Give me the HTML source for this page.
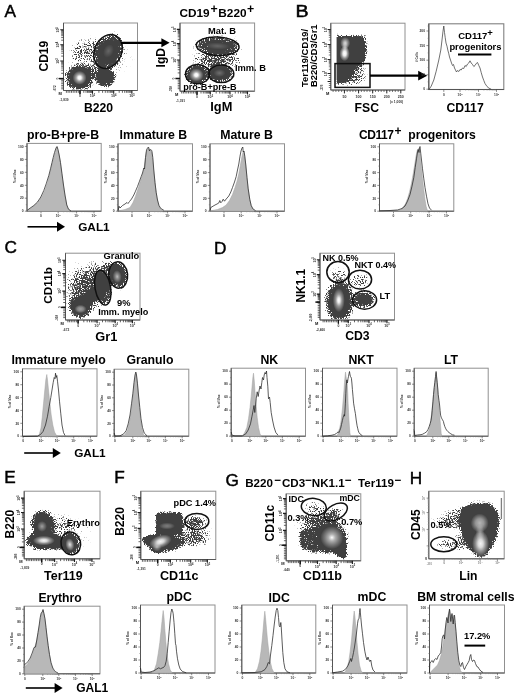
<!DOCTYPE html>
<html><head><meta charset="utf-8"><title>Figure</title>
<style>
html,body{margin:0;padding:0;background:#fff}
svg{display:block;font-family:"Liberation Sans",sans-serif;font-weight:bold;fill:#000}
</style></head><body>
<svg width="520" height="700" viewBox="0 0 520 700">
<defs>
<filter id="dn" x="0" y="0" width="100%" height="100%" color-interpolation-filters="sRGB"><feTurbulence type="fractalNoise" baseFrequency="0.93 0.77" numOctaves="2" seed="8"/><feComponentTransfer result="n"><feFuncA type="table" tableValues="0 .1 .2 .3 .4 .5 .6 .7 .725 .74 .745"/></feComponentTransfer><feComposite in="SourceGraphic" in2="n" operator="arithmetic" k1="0" k2="1" k3="1" k4="-0.745" result="s"/><feColorMatrix in="s" type="matrix" values="0 0 0 0 0.25  0 0 0 0 0.25  0 0 0 0 0.25  0 0 0 9 0"/><feGaussianBlur stdDeviation="0.45"/></filter>
<radialGradient id="r0"><stop offset="0" stop-opacity="1"/><stop offset=".6" stop-opacity=".55"/><stop offset=".72" stop-opacity=".36"/><stop offset=".85" stop-opacity=".22"/><stop offset="1" stop-opacity="0"/></radialGradient>
<radialGradient id="r1"><stop offset="0" stop-opacity=".13"/><stop offset=".5" stop-opacity=".1"/><stop offset=".8" stop-opacity=".04"/><stop offset="1" stop-opacity="0"/></radialGradient>
<radialGradient id="r2"><stop offset="0" stop-opacity=".75"/><stop offset=".5" stop-opacity=".52"/><stop offset=".7" stop-opacity=".38"/><stop offset=".85" stop-opacity=".22"/><stop offset="1" stop-opacity="0"/></radialGradient>
<radialGradient id="r3"><stop offset="0" stop-opacity=".27"/><stop offset=".5" stop-opacity=".2"/><stop offset=".8" stop-opacity=".08"/><stop offset="1" stop-opacity="0"/></radialGradient>
<radialGradient id="r4"><stop offset="0" stop-opacity=".3"/><stop offset=".5" stop-opacity=".22"/><stop offset=".8" stop-opacity=".09"/><stop offset="1" stop-opacity="0"/></radialGradient>
<radialGradient id="r5"><stop offset="0" stop-opacity=".1"/><stop offset=".5" stop-opacity=".08"/><stop offset=".8" stop-opacity=".03"/><stop offset="1" stop-opacity="0"/></radialGradient>
<radialGradient id="r6"><stop offset="0" stop-color="#fff" stop-opacity="1"/><stop offset=".22" stop-color="#fff" stop-opacity=".95"/><stop offset=".5" stop-color="#fff" stop-opacity=".5"/><stop offset="1" stop-color="#fff" stop-opacity="0"/></radialGradient>
<radialGradient id="r7"><stop offset="0" stop-color="#fff" stop-opacity=".2"/><stop offset="1" stop-color="#fff" stop-opacity="0"/></radialGradient>
<clipPath id="c796"><rect x="64.5" y="24" width="72" height="65.5"/></clipPath>
<radialGradient id="r8"><stop offset="0" stop-opacity=".62"/><stop offset=".5" stop-opacity=".5"/><stop offset=".7" stop-opacity=".36"/><stop offset=".85" stop-opacity=".22"/><stop offset="1" stop-opacity="0"/></radialGradient>
<radialGradient id="r9"><stop offset="0" stop-opacity=".34"/><stop offset=".5" stop-opacity=".26"/><stop offset=".8" stop-opacity=".1"/><stop offset="1" stop-opacity="0"/></radialGradient>
<radialGradient id="r10"><stop offset="0" stop-opacity=".09"/><stop offset=".5" stop-opacity=".07"/><stop offset=".8" stop-opacity=".03"/><stop offset="1" stop-opacity="0"/></radialGradient>
<radialGradient id="r11"><stop offset="0" stop-color="#fff" stop-opacity=".25"/><stop offset="1" stop-color="#fff" stop-opacity="0"/></radialGradient>
<clipPath id="c1961"><rect x="181" y="24" width="72.5" height="66"/></clipPath>
<radialGradient id="r12"><stop offset="0" stop-opacity=".2"/><stop offset=".5" stop-opacity=".15"/><stop offset=".8" stop-opacity=".06"/><stop offset="1" stop-opacity="0"/></radialGradient>
<radialGradient id="r13"><stop offset="0" stop-color="#fff" stop-opacity=".75"/><stop offset=".4" stop-color="#fff" stop-opacity=".5"/><stop offset="1" stop-color="#fff" stop-opacity="0"/></radialGradient>
<radialGradient id="r14"><stop offset="0" stop-color="#fff" stop-opacity="1"/><stop offset=".3" stop-color="#fff" stop-opacity=".9"/><stop offset=".6" stop-color="#fff" stop-opacity=".45"/><stop offset="1" stop-color="#fff" stop-opacity="0"/></radialGradient>
<radialGradient id="r15"><stop offset="0" stop-color="#fff" stop-opacity=".5"/><stop offset="1" stop-color="#fff" stop-opacity="0"/></radialGradient>
<clipPath id="c3470"><rect x="331.8" y="24.2" width="72.2" height="64.8"/></clipPath>
<clipPath id="c3470d"><rect x="336.6" y="24" width="37.4" height="65"/></clipPath>
<filter id="b20" x="-30%" y="-30%" width="160%" height="160%"><feGaussianBlur stdDeviation="2.0"/></filter>
<filter id="b18" x="-30%" y="-30%" width="160%" height="160%"><feGaussianBlur stdDeviation="1.8"/></filter>
<radialGradient id="r16"><stop offset="0" stop-opacity=".8"/><stop offset=".4" stop-opacity=".5"/><stop offset=".6" stop-opacity=".34"/><stop offset=".8" stop-opacity=".2"/><stop offset="1" stop-opacity="0"/></radialGradient>
<radialGradient id="r17"><stop offset="0" stop-opacity=".4"/><stop offset=".6" stop-opacity=".37"/><stop offset=".75" stop-opacity=".31"/><stop offset=".88" stop-opacity=".2"/><stop offset="1" stop-opacity="0"/></radialGradient>
<radialGradient id="r18"><stop offset="0" stop-opacity=".35"/><stop offset=".5" stop-opacity=".26"/><stop offset=".8" stop-opacity=".1"/><stop offset="1" stop-opacity="0"/></radialGradient>
<radialGradient id="r19"><stop offset="0" stop-color="#fff" stop-opacity=".5"/><stop offset=".5" stop-color="#fff" stop-opacity=".35"/><stop offset="1" stop-color="#fff" stop-opacity="0"/></radialGradient>
<radialGradient id="r20"><stop offset="0" stop-color="#fff" stop-opacity=".65"/><stop offset=".35" stop-color="#fff" stop-opacity=".4"/><stop offset="1" stop-color="#fff" stop-opacity="0"/></radialGradient>
<clipPath id="c2427"><rect x="66.5" y="254.2" width="72.5" height="64.8"/></clipPath>
<radialGradient id="r21"><stop offset="0" stop-opacity=".75"/><stop offset=".4" stop-opacity=".52"/><stop offset=".6" stop-opacity=".36"/><stop offset=".8" stop-opacity=".22"/><stop offset="1" stop-opacity="0"/></radialGradient>
<radialGradient id="r22"><stop offset="0" stop-opacity=".25"/><stop offset=".5" stop-opacity=".19"/><stop offset=".8" stop-opacity=".07"/><stop offset="1" stop-opacity="0"/></radialGradient>
<radialGradient id="r23"><stop offset="0" stop-color="#fff" stop-opacity="1"/><stop offset=".2" stop-color="#fff" stop-opacity=".9"/><stop offset=".5" stop-color="#fff" stop-opacity=".45"/><stop offset="1" stop-color="#fff" stop-opacity="0"/></radialGradient>
<clipPath id="c4972"><rect x="321" y="254.2" width="72.5" height="64.8"/></clipPath>
<radialGradient id="r24"><stop offset="0" stop-opacity=".08"/><stop offset=".5" stop-opacity=".06"/><stop offset=".8" stop-opacity=".02"/><stop offset="1" stop-opacity="0"/></radialGradient>
<radialGradient id="r25"><stop offset="0" stop-color="#fff" stop-opacity=".95"/><stop offset=".3" stop-color="#fff" stop-opacity=".8"/><stop offset=".6" stop-color="#fff" stop-opacity=".4"/><stop offset="1" stop-color="#fff" stop-opacity="0"/></radialGradient>
<radialGradient id="r26"><stop offset="0" stop-color="#fff" stop-opacity=".5"/><stop offset=".4" stop-color="#fff" stop-opacity=".3"/><stop offset="1" stop-color="#fff" stop-opacity="0"/></radialGradient>
<radialGradient id="r27"><stop offset="0" stop-color="#fff" stop-opacity=".85"/><stop offset=".35" stop-color="#fff" stop-opacity=".55"/><stop offset="1" stop-color="#fff" stop-opacity="0"/></radialGradient>
<clipPath id="c3680"><rect x="25.2" y="492.2" width="73.8" height="65.6"/></clipPath>
<radialGradient id="r28"><stop offset="0" stop-opacity=".22"/><stop offset=".5" stop-opacity=".17"/><stop offset=".8" stop-opacity=".07"/><stop offset="1" stop-opacity="0"/></radialGradient>
<radialGradient id="r29"><stop offset="0" stop-opacity=".12"/><stop offset=".5" stop-opacity=".09"/><stop offset=".8" stop-opacity=".04"/><stop offset="1" stop-opacity="0"/></radialGradient>
<radialGradient id="r30"><stop offset="0" stop-color="#fff" stop-opacity=".32"/><stop offset=".5" stop-color="#fff" stop-opacity=".2"/><stop offset="1" stop-color="#fff" stop-opacity="0"/></radialGradient>
<clipPath id="c4846"><rect x="141.8" y="492.2" width="73" height="66.3"/></clipPath>
<filter id="b16" x="-30%" y="-30%" width="160%" height="160%"><feGaussianBlur stdDeviation="1.6"/></filter>
<radialGradient id="r31"><stop offset="0" stop-opacity=".4"/><stop offset=".5" stop-opacity=".3"/><stop offset=".8" stop-opacity=".12"/><stop offset="1" stop-opacity="0"/></radialGradient>
<radialGradient id="r32"><stop offset="0" stop-opacity=".18"/><stop offset=".5" stop-opacity=".14"/><stop offset=".8" stop-opacity=".05"/><stop offset="1" stop-opacity="0"/></radialGradient>
<radialGradient id="r33"><stop offset="0" stop-opacity=".24"/><stop offset=".5" stop-opacity=".18"/><stop offset=".8" stop-opacity=".07"/><stop offset="1" stop-opacity="0"/></radialGradient>
<radialGradient id="r34"><stop offset="0" stop-opacity=".32"/><stop offset=".5" stop-opacity=".24"/><stop offset=".8" stop-opacity=".1"/><stop offset="1" stop-opacity="0"/></radialGradient>
<radialGradient id="r35"><stop offset="0" stop-color="#fff" stop-opacity="1"/><stop offset=".1" stop-color="#fff" stop-opacity=".85"/><stop offset=".3" stop-color="#fff" stop-opacity=".58"/><stop offset=".6" stop-color="#fff" stop-opacity=".32"/><stop offset="1" stop-color="#fff" stop-opacity="0"/></radialGradient>
<clipPath id="c6318"><rect x="287.2" y="494.8" width="72.6" height="65"/></clipPath>
<filter id="b12" x="-30%" y="-30%" width="160%" height="160%"><feGaussianBlur stdDeviation="1.2"/></filter>
<radialGradient id="r36"><stop offset="0" stop-opacity=".15"/><stop offset=".5" stop-opacity=".11"/><stop offset=".8" stop-opacity=".04"/><stop offset="1" stop-opacity="0"/></radialGradient>
<radialGradient id="r37"><stop offset="0" stop-opacity=".28"/><stop offset=".5" stop-opacity=".21"/><stop offset=".8" stop-opacity=".08"/><stop offset="1" stop-opacity="0"/></radialGradient>
<radialGradient id="r38"><stop offset="0" stop-color="#fff" stop-opacity=".62"/><stop offset=".45" stop-color="#fff" stop-opacity=".45"/><stop offset="1" stop-color="#fff" stop-opacity="0"/></radialGradient>
<radialGradient id="r39"><stop offset="0" stop-color="#fff" stop-opacity=".95"/><stop offset=".3" stop-color="#fff" stop-opacity=".8"/><stop offset=".6" stop-color="#fff" stop-opacity=".42"/><stop offset="1" stop-color="#fff" stop-opacity="0"/></radialGradient>
<radialGradient id="r40"><stop offset="0" stop-color="#fff" stop-opacity=".4"/><stop offset="1" stop-color="#fff" stop-opacity="0"/></radialGradient>
<clipPath id="c7726"><rect x="429.8" y="492.2" width="73.4" height="65.6"/></clipPath></defs>
<rect width="520" height="700" fill="#fff"/>
<text x="4.4" y="17.1" font-size="17.2" font-weight="normal" stroke="#000" stroke-width="0.45">A</text>
<text transform="translate(295.5 17.1) scale(1.14 1)" font-size="17.2" font-weight="normal" stroke="#000" stroke-width="0.5">B</text>
<text x="4.6" y="253" font-size="17.2" font-weight="normal" stroke="#000" stroke-width="0.45">C</text>
<text x="214" y="253.6" font-size="17.2" font-weight="normal" stroke="#000" stroke-width="0.45">D</text>
<text x="4.2" y="483.2" font-size="17.2" font-weight="normal" stroke="#000" stroke-width="0.45">E</text>
<text x="114.2" y="483.2" font-size="17.2" font-weight="normal" stroke="#000" stroke-width="0.45">F</text>
<text x="225.4" y="485.6" font-size="17.2" font-weight="normal" stroke="#000" stroke-width="0.45">G</text>
<text x="409.8" y="483.6" font-size="17.2" font-weight="normal" stroke="#000" stroke-width="0.45">H</text>
<g clip-path="url(#c796)">
<g filter="url(#dn)">
<rect x="43.5" y="3" width="114" height="107.5" fill-opacity=".01"/>
<ellipse cx="79.6" cy="77.6" rx="16" ry="15.5" fill="url(#r0)"/>
<ellipse cx="79.6" cy="77.6" rx="19.5" ry="18.9" fill="url(#r1)"/>
<ellipse cx="109" cy="51.6" rx="14.5" ry="20.5" fill="url(#r2)" transform="rotate(24 109 51.6)"/>
<ellipse cx="109" cy="51.6" rx="17.7" ry="25" fill="url(#r1)" transform="rotate(24 109 51.6)"/>
<ellipse cx="105.3" cy="77.5" rx="11.5" ry="11" fill="url(#r0)"/>
<ellipse cx="105.3" cy="77.5" rx="14" ry="13.4" fill="url(#r1)"/>
<ellipse cx="86" cy="51" rx="23" ry="15" fill="url(#r3)" transform="rotate(-20 86 51)"/>
<ellipse cx="95" cy="70" rx="13" ry="10" fill="url(#r4)"/>
<ellipse cx="110" cy="58" rx="30" ry="26" fill="url(#r5)"/>
</g>
<ellipse cx="79.6" cy="77.8" rx="7" ry="7" fill="url(#r6)"/>
<ellipse cx="108.5" cy="51" rx="5" ry="7" fill="url(#r7)" transform="rotate(24 108.5 51)"/>
</g>
<rect x="63.5" y="23" width="74" height="67.5" fill="none" stroke="#909090" stroke-width="1"/>
<path d="M63.5 23V90.5H137.5" fill="none" stroke="#555" stroke-width="1"/>
<path d="M83.8 90.5v2.3M86 90.5v2.3M87.5 90.5v2.3M88.7 90.5v2.3M89.7 90.5v2.3M90.6 90.5v2.3M91.3 90.5v2.3M91.9 90.5v2.3M98.9 90.5v2.3M102.6 90.5v2.3M105.3 90.5v2.3M107.3 90.5v2.3M109 90.5v2.3M110.4 90.5v2.3M111.6 90.5v2.3M112.7 90.5v2.3M119.2 90.5v2.3M122.4 90.5v2.3M124.7 90.5v2.3M126.4 90.5v2.3M127.9 90.5v2.3M129.1 90.5v2.3M130.1 90.5v2.3M131.1 90.5v2.3M78.3 90.5v2.3M76.6 90.5v2.3M74.9 90.5v2.3M73.2 90.5v2.3M71.5 90.5v2.3M69.8 90.5v2.3M68.1 90.5v2.3M66.4 90.5v2.3" stroke="#3c3c3c" stroke-width="0.8" fill="none"/>
<path d="M80 90.5v3.2M92.5 90.5v3.2M113.7 90.5v3.2M131.9 90.5v3.2" stroke="#1c1c1c" stroke-width="1.1" fill="none"/>
<path d="M63.5 73.3h-2.3M63.5 70.2h-2.3M63.5 68h-2.3M63.5 66.3h-2.3M63.5 64.9h-2.3M63.5 63.7h-2.3M63.5 62.7h-2.3M63.5 61.8h-2.3M63.5 56.1h-2.3M63.5 53.2h-2.3M63.5 51.2h-2.3M63.5 49.6h-2.3M63.5 48.3h-2.3M63.5 47.2h-2.3M63.5 46.3h-2.3M63.5 45.4h-2.3M63.5 40.2h-2.3M63.5 37.6h-2.3M63.5 35.7h-2.3M63.5 34.3h-2.3M63.5 33.1h-2.3M63.5 32.1h-2.3M63.5 31.2h-2.3M63.5 30.5h-2.3M63.5 80.3h-2.3M63.5 82h-2.3M63.5 83.7h-2.3M63.5 85.4h-2.3M63.5 87.1h-2.3M63.5 88.8h-2.3" stroke="#3c3c3c" stroke-width="0.8" fill="none"/>
<path d="M63.5 78.6h-3.2M63.5 61h-3.2M63.5 44.7h-3.2M63.5 29.8h-3.2" stroke="#1c1c1c" stroke-width="1.1" fill="none"/>
<path d="M63.5 78.6h-4.6" stroke="#111" stroke-width="1.5" fill="none"/>
<path d="M80 90.5v3.8" stroke="#111" stroke-width="1.3" fill="none"/>
<text transform="translate(80 97.1) scale(0.340)" font-size="10" text-anchor="middle" fill="#333">0</text>
<text transform="translate(92.5 97.3) scale(0.370)" font-size="10" text-anchor="middle" fill="#333">10<tspan dy="-4" font-size="7">2</tspan></text>
<text transform="translate(113.7 97.3) scale(0.370)" font-size="10" text-anchor="middle" fill="#333">10<tspan dy="-4" font-size="7">4</tspan></text>
<text transform="translate(131.9 97.3) scale(0.370)" font-size="10" text-anchor="middle" fill="#333">10<tspan dy="-4" font-size="7">5</tspan></text>
<text transform="translate(58.9 78.6) rotate(-90) scale(0.340)" font-size="10" text-anchor="middle" fill="#333">0</text>
<text transform="translate(59.3 61) rotate(-90) scale(0.370)" font-size="10" text-anchor="middle" fill="#333">10<tspan dy="-4" font-size="7">3</tspan></text>
<text transform="translate(59.3 44.7) rotate(-90) scale(0.370)" font-size="10" text-anchor="middle" fill="#333">10<tspan dy="-4" font-size="7">4</tspan></text>
<text transform="translate(59.3 29.8) rotate(-90) scale(0.370)" font-size="10" text-anchor="middle" fill="#333">10<tspan dy="-4" font-size="7">5</tspan></text>
<text transform="translate(64 101.1) scale(0.320)" font-size="10" text-anchor="middle" fill="#333">-1,839</text>
<text transform="translate(55.9 88.3) rotate(-90) scale(0.300)" font-size="10" text-anchor="middle" fill="#333">-672</text>
<text transform="translate(60.1 95.1) scale(0.400)" font-size="10" text-anchor="middle" fill="#111">M</text>
<ellipse cx="108" cy="51.5" rx="13.4" ry="17.5" fill="none" stroke="#111" stroke-width="1.5" transform="rotate(24 108 51.5)"/>
<path d="M121 42.8H162.4" stroke="#000" stroke-width="2.3"/>
<path d="M169.6 42.8L161.4 38.3L161.4 47.3Z" fill="#000"/>
<text x="48" y="71.6" font-size="12.1" transform="rotate(-90 48 71.6)">CD19</text>
<text x="84" y="112" font-size="12.2">B220</text>
<g clip-path="url(#c1961)">
<g filter="url(#dn)">
<rect x="160" y="3" width="114.5" height="108" fill-opacity="0"/>
<ellipse cx="217.5" cy="46" rx="23.5" ry="9.8" fill="url(#r8)" transform="rotate(3 217.5 46)"/>
<ellipse cx="217.5" cy="46" rx="28.7" ry="12" fill="url(#r1)" transform="rotate(3 217.5 46)"/>
<ellipse cx="196.8" cy="74.8" rx="13.5" ry="11" fill="url(#r0)"/>
<ellipse cx="196.8" cy="74.8" rx="16.5" ry="13.4" fill="url(#r1)"/>
<ellipse cx="220" cy="73.2" rx="14" ry="10" fill="url(#r0)"/>
<ellipse cx="220" cy="73.2" rx="17.1" ry="12.2" fill="url(#r1)"/>
<ellipse cx="217" cy="60" rx="28" ry="10.5" fill="url(#r9)"/>
<ellipse cx="218" cy="56" rx="36" ry="30" fill="url(#r10)"/>
</g>
<ellipse cx="196.3" cy="75" rx="7.2" ry="6.6" fill="url(#r6)"/>
<ellipse cx="217.5" cy="46" rx="12" ry="3.5" fill="url(#r7)" transform="rotate(3 217.5 46)"/>
<ellipse cx="219.5" cy="73" rx="6" ry="4" fill="url(#r11)"/>
</g>
<rect x="180" y="23" width="74.6" height="68.2" fill="none" stroke="#909090" stroke-width="1"/>
<path d="M180 23V91.2H254.6" fill="none" stroke="#555" stroke-width="1"/>
<path d="M201 91.2v2.3M203.3 91.2v2.3M205 91.2v2.3M206.3 91.2v2.3M207.3 91.2v2.3M208.2 91.2v2.3M209 91.2v2.3M209.7 91.2v2.3M216.2 91.2v2.3M219.7 91.2v2.3M222.2 91.2v2.3M224.1 91.2v2.3M225.6 91.2v2.3M226.9 91.2v2.3M228.1 91.2v2.3M229.1 91.2v2.3M235.3 91.2v2.3M238.3 91.2v2.3M240.5 91.2v2.3M242.2 91.2v2.3M243.6 91.2v2.3M244.8 91.2v2.3M245.8 91.2v2.3M246.7 91.2v2.3M195.3 91.2v2.3M193.6 91.2v2.3M191.9 91.2v2.3M190.2 91.2v2.3M188.5 91.2v2.3M186.8 91.2v2.3M185.1 91.2v2.3M183.4 91.2v2.3M181.7 91.2v2.3" stroke="#3c3c3c" stroke-width="0.8" fill="none"/>
<path d="M197 91.2v3.2M210.3 91.2v3.2M230 91.2v3.2M247.5 91.2v3.2" stroke="#1c1c1c" stroke-width="1.1" fill="none"/>
<path d="M180 72.9h-2.3M180 69.7h-2.3M180 67.4h-2.3M180 65.6h-2.3M180 64.1h-2.3M180 62.9h-2.3M180 61.8h-2.3M180 60.8h-2.3M180 55.1h-2.3M180 52.2h-2.3M180 50.1h-2.3M180 48.5h-2.3M180 47.2h-2.3M180 46.1h-2.3M180 45.2h-2.3M180 44.4h-2.3M180 39.3h-2.3M180 36.8h-2.3M180 35.1h-2.3M180 33.7h-2.3M180 32.6h-2.3M180 31.6h-2.3M180 30.8h-2.3M180 30h-2.3M180 80.2h-2.3M180 81.9h-2.3M180 83.6h-2.3M180 85.3h-2.3M180 87h-2.3M180 88.7h-2.3" stroke="#3c3c3c" stroke-width="0.8" fill="none"/>
<path d="M180 78.5h-3.2M180 60h-3.2M180 43.6h-3.2M180 29.4h-3.2" stroke="#1c1c1c" stroke-width="1.1" fill="none"/>
<path d="M180 78.5h-4.6" stroke="#111" stroke-width="1.5" fill="none"/>
<path d="M197 91.2v3.8" stroke="#111" stroke-width="1.3" fill="none"/>
<text transform="translate(197 97.8) scale(0.340)" font-size="10" text-anchor="middle" fill="#333">0</text>
<text transform="translate(210.3 98) scale(0.370)" font-size="10" text-anchor="middle" fill="#333">10<tspan dy="-4" font-size="7">3</tspan></text>
<text transform="translate(230 98) scale(0.370)" font-size="10" text-anchor="middle" fill="#333">10<tspan dy="-4" font-size="7">4</tspan></text>
<text transform="translate(247.5 98) scale(0.370)" font-size="10" text-anchor="middle" fill="#333">10<tspan dy="-4" font-size="7">5</tspan></text>
<text transform="translate(175.4 78.5) rotate(-90) scale(0.340)" font-size="10" text-anchor="middle" fill="#333">0</text>
<text transform="translate(175.8 60) rotate(-90) scale(0.370)" font-size="10" text-anchor="middle" fill="#333">10<tspan dy="-4" font-size="7">3</tspan></text>
<text transform="translate(175.8 43.6) rotate(-90) scale(0.370)" font-size="10" text-anchor="middle" fill="#333">10<tspan dy="-4" font-size="7">4</tspan></text>
<text transform="translate(175.8 29.4) rotate(-90) scale(0.370)" font-size="10" text-anchor="middle" fill="#333">10<tspan dy="-4" font-size="7">5</tspan></text>
<text transform="translate(180.5 101.8) scale(0.320)" font-size="10" text-anchor="middle" fill="#333">-1,391</text>
<text transform="translate(172.4 89) rotate(-90) scale(0.300)" font-size="10" text-anchor="middle" fill="#333">-398</text>
<text transform="translate(176.6 95.8) scale(0.400)" font-size="10" text-anchor="middle" fill="#111">M</text>
<ellipse cx="217.7" cy="46.2" rx="21.4" ry="9.2" fill="none" stroke="#111" stroke-width="1.5" transform="rotate(3 217.7 46.2)"/>
<ellipse cx="197.5" cy="74.2" rx="12" ry="9.6" fill="none" stroke="#111" stroke-width="1.5"/>
<ellipse cx="221.3" cy="73.8" rx="12.5" ry="8.8" fill="none" stroke="#111" stroke-width="1.5"/>
<text x="179.5" y="16.7" font-size="11.8">CD19<tspan x="210.4" dy="-3.4" font-size="12.3">+</tspan><tspan x="218.3" dy="3.4">B220</tspan><tspan x="247" dy="-3.4" font-size="12.3">+</tspan></text>
<text x="208" y="33.8" font-size="9.3">Mat. B</text>
<text x="235" y="70.5" font-size="9.3">Imm. B</text>
<text x="183.2" y="89.5" font-size="9.1">pro-B+pre-B</text>
<text x="165" y="67.4" font-size="12" transform="rotate(-90 165 67.4)">IgD</text>
<text x="210.3" y="110.5" font-size="12.8">IgM</text>
<g clip-path="url(#c3470)">
<g clip-path="url(#c3470d)">
<g filter="url(#dn)">
<rect x="310.8" y="3.2" width="114.2" height="106.8" fill-opacity="0"/>
<path d="M334 37L364 36.2L366 50L364 60L358 66L334 66Z" fill-opacity=".8" filter="url(#b20)"/>
<path d="M334 62L358 62L353 72L348 82L334 84Z" fill-opacity=".6" filter="url(#b18)"/>
<ellipse cx="357" cy="70" rx="13" ry="16" fill="url(#r4)"/>
<ellipse cx="352" cy="80" rx="14" ry="8" fill="url(#r12)"/>
</g>
</g>
<ellipse cx="345.2" cy="43" rx="5" ry="6" fill="url(#r13)"/>
<ellipse cx="344.6" cy="53.6" rx="5.2" ry="7.6" fill="url(#r14)"/>
<ellipse cx="345" cy="48" rx="3.2" ry="8" fill="url(#r15)"/>
</g>
<rect x="330.8" y="23.2" width="74.2" height="66.8" fill="none" stroke="#909090" stroke-width="1"/>
<path d="M330.8 23.2V90H405" fill="none" stroke="#555" stroke-width="1"/>
<path d="M344.4 90v3.4M358.6 90v3.4M372.7 90v3.4M386.8 90v3.4M400.8 90v3.4" stroke="#222" stroke-width="1" fill="none"/>
<path d="M333.1 90v2M335.9 90v2M338.7 90v2M341.6 90v2M347.2 90v2M350.1 90v2M352.9 90v2M355.7 90v2M361.4 90v2M364.2 90v2M367 90v2M369.9 90v2M375.5 90v2M378.4 90v2M381.2 90v2M384 90v2M389.7 90v2M392.5 90v2M395.3 90v2M398.2 90v2" stroke="#444" stroke-width="0.7" fill="none"/>
<text transform="translate(344.4 97.6) scale(0.360)" font-size="10" text-anchor="middle" fill="#333">50</text>
<text transform="translate(358.6 97.6) scale(0.360)" font-size="10" text-anchor="middle" fill="#333">100</text>
<text transform="translate(372.7 97.6) scale(0.360)" font-size="10" text-anchor="middle" fill="#333">150</text>
<text transform="translate(386.8 97.6) scale(0.360)" font-size="10" text-anchor="middle" fill="#333">200</text>
<text transform="translate(400.8 97.6) scale(0.360)" font-size="10" text-anchor="middle" fill="#333">250</text>
<text transform="translate(396.6 102.8) scale(0.330)" font-size="10" text-anchor="middle" fill="#333">(x 1,000)</text>
<path d="M330.8 81.5h-3.2M330.8 73.5h-3.2M330.8 59.5h-3.2M330.8 44.5h-3.2M330.8 29.5h-3.2" stroke="#222" stroke-width="1" fill="none"/>
<path d="M330.8 69.3h-2M330.8 66.8h-2M330.8 65.1h-2M330.8 63.7h-2M330.8 62.6h-2M330.8 61.7h-2M330.8 60.9h-2M330.8 60.1h-2M330.8 55h-2M330.8 52.3h-2M330.8 50.5h-2M330.8 49h-2M330.8 47.8h-2M330.8 46.8h-2M330.8 46h-2M330.8 45.2h-2M330.8 40h-2M330.8 37.3h-2M330.8 35.5h-2M330.8 34h-2M330.8 32.8h-2M330.8 31.8h-2M330.8 31h-2M330.8 30.2h-2M330.8 83.5h-2M330.8 85.5h-2M330.8 87.5h-2M330.8 79.5h-2M330.8 77.5h-2M330.8 75.5h-2" stroke="#444" stroke-width="0.7" fill="none"/>
<text transform="translate(326.6 73.5) rotate(-90) scale(0.370)" font-size="10" text-anchor="middle" fill="#3a3a3a">10<tspan dy="-4" font-size="7">2</tspan></text>
<text transform="translate(326.6 59.5) rotate(-90) scale(0.370)" font-size="10" text-anchor="middle" fill="#3a3a3a">10<tspan dy="-4" font-size="7">3</tspan></text>
<text transform="translate(326.6 44.5) rotate(-90) scale(0.370)" font-size="10" text-anchor="middle" fill="#3a3a3a">10<tspan dy="-4" font-size="7">4</tspan></text>
<text transform="translate(326.6 29.5) rotate(-90) scale(0.370)" font-size="10" text-anchor="middle" fill="#3a3a3a">10<tspan dy="-4" font-size="7">5</tspan></text>
<text transform="translate(323.4 87.6) rotate(-90) scale(0.300)" font-size="10" text-anchor="middle" fill="#333">-276</text>
<text transform="translate(327.6 94.6) scale(0.400)" font-size="10" text-anchor="middle" fill="#111">M</text>
<rect x="335" y="63.6" width="35" height="23.8" fill="none" stroke="#111" stroke-width="1.5"/>
<path d="M370 75.7H419.2" stroke="#000" stroke-width="2.3"/>
<path d="M427.2 75.7L418.2 70.8L418.2 80.6Z" fill="#000"/>
<text x="308" y="87" font-size="9.4" transform="rotate(-90 308 87)">Ter119/CD19/</text>
<text x="317.2" y="87" font-size="9.4" transform="rotate(-90 317.2 87)">B220/CD3/Gr1</text>
<text x="354.6" y="112" font-size="12.2">FSC</text>
<rect x="428.8" y="23.8" width="75" height="65.7" fill="none" stroke="#808080" stroke-width="1.1"/>
<path d="M428.8 23.8V89.5H503.8" fill="none" stroke="#555" stroke-width="1.1"/>
<path d="M429.2 89.2L431.2 86.2L433.8 80L436.2 71.2L438.8 60L440.8 50L442 40L443 31.2L443.8 26L444.5 32.5L445.2 37.5L446 43L447 46.2L447.8 50L448.8 53.8L449.5 57L450.5 60L451.5 63L452.5 65.5L453.5 64.5L454.5 68L455.5 70L456.5 72L457.5 70.5L458.8 71.5L460 69.5L461.2 70L462.5 68L463.8 68.5L465 65.5L466.2 66.5L467.5 64L468.8 63L470 60.8L471.2 63L472.5 64.5L473.8 66.5L475 65.5L476.2 63.5L477.5 62.5L478.8 65.5L480 68L481.2 72.5L482.5 77L483.8 80.5L485 83.5L487 86.5L489 88.2L491.2 89.2" fill="none" stroke="#333" stroke-width="0.7" stroke-linejoin="round"/>
<path d="M428.8 89.2h-2.4M428.8 74.8h-2.4M428.8 60.2h-2.4M428.8 45.6h-2.4M428.8 31h-2.4" stroke="#444" stroke-width="0.6" fill="none"/>
<path d="M428.8 81.9h-1.2M428.8 67.5h-1.2M428.8 52.9h-1.2M428.8 38.3h-1.2M428.8 26h-1.2" stroke="#666" stroke-width="0.5" fill="none"/>
<text transform="translate(425 90.4) scale(0.330)" font-size="10" text-anchor="end" fill="#333">0</text>
<text transform="translate(425 76) scale(0.330)" font-size="10" text-anchor="end" fill="#333">50</text>
<text transform="translate(425 61.4) scale(0.330)" font-size="10" text-anchor="end" fill="#333">100</text>
<text transform="translate(425 46.8) scale(0.330)" font-size="10" text-anchor="end" fill="#333">150</text>
<text transform="translate(425 32.2) scale(0.330)" font-size="10" text-anchor="end" fill="#333">200</text>
<text transform="translate(418.4 57) rotate(-90) scale(0.310)" font-size="10" text-anchor="middle" fill="#333"># Cells</text>
<path d="M443.8 89.5v2.4M460 89.5v2.4M478.5 89.5v2.4M496.5 89.5v2.4" stroke="#444" stroke-width="0.6" fill="none"/>
<path d="M465.6 89.5v1.2M468.8 89.5v1.2M471.1 89.5v1.2M472.9 89.5v1.2M474.4 89.5v1.2M475.6 89.5v1.2M476.7 89.5v1.2M477.7 89.5v1.2M483.9 89.5v1.2M487.1 89.5v1.2M489.3 89.5v1.2M491.1 89.5v1.2M492.5 89.5v1.2M493.7 89.5v1.2M494.8 89.5v1.2M495.7 89.5v1.2" stroke="#777" stroke-width="0.4" fill="none"/>
<text transform="translate(443.8 96) scale(0.330)" font-size="10" text-anchor="middle" fill="#333">0</text>
<text transform="translate(460 96.2) scale(0.320)" font-size="10" text-anchor="middle" fill="#3a3a3a">10<tspan dy="-4" font-size="7">3</tspan></text>
<text transform="translate(478.5 96.2) scale(0.320)" font-size="10" text-anchor="middle" fill="#3a3a3a">10<tspan dy="-4" font-size="7">4</tspan></text>
<text transform="translate(496.5 96.2) scale(0.320)" font-size="10" text-anchor="middle" fill="#3a3a3a">10<tspan dy="-4" font-size="7">5</tspan></text>
<path d="M458 54.6H491.4" stroke="#000" stroke-width="2"/>
<text x="458.2" y="39.2" font-size="9.5">CD117<tspan dy="-3" font-size="9.5">+</tspan></text>
<text x="449.4" y="50" font-size="9.4">progenitors</text>
<text x="446.4" y="112" font-size="12.2">CD117</text>
<rect x="27" y="143.4" width="74.2" height="67.8" fill="none" stroke="#909090" stroke-width="1"/>
<path d="M27 143.4V211.2H101.2" fill="none" stroke="#555" stroke-width="1"/>
<path d="M27 211.2h-2.2M27 198.2h-2.2M27 185.3h-2.2M27 172.3h-2.2M27 159.4h-2.2M27 146.4h-2.2" stroke="#444" stroke-width="0.6" fill="none"/>
<path d="M27 204.7h-1.2M27 191.8h-1.2M27 178.8h-1.2M27 165.8h-1.2M27 152.9h-1.2" stroke="#666" stroke-width="0.5" fill="none"/>
<text transform="translate(23.6 212.4) scale(0.330)" font-size="10" text-anchor="end" fill="#333">0</text>
<text transform="translate(23.6 199.4) scale(0.330)" font-size="10" text-anchor="end" fill="#333">20</text>
<text transform="translate(23.6 186.5) scale(0.330)" font-size="10" text-anchor="end" fill="#333">40</text>
<text transform="translate(23.6 173.5) scale(0.330)" font-size="10" text-anchor="end" fill="#333">60</text>
<text transform="translate(23.6 160.6) scale(0.330)" font-size="10" text-anchor="end" fill="#333">80</text>
<text transform="translate(23.6 147.6) scale(0.330)" font-size="10" text-anchor="end" fill="#333">100</text>
<text transform="translate(15.8 176.3) rotate(-90) scale(0.310)" font-size="10" text-anchor="middle" fill="#333">% of Max</text>
<text transform="translate(41 217.2) scale(0.330)" font-size="10" text-anchor="middle" fill="#333">0</text>
<text transform="translate(58.2 217.4) scale(0.320)" font-size="10" text-anchor="middle" fill="#3a3a3a">10<tspan dy="-4" font-size="7">3</tspan></text>
<text transform="translate(76.6 217.4) scale(0.320)" font-size="10" text-anchor="middle" fill="#3a3a3a">10<tspan dy="-4" font-size="7">4</tspan></text>
<text transform="translate(94 217.4) scale(0.320)" font-size="10" text-anchor="middle" fill="#3a3a3a">10<tspan dy="-4" font-size="7">5</tspan></text>
<path d="M41 211.2v2.2M58.2 211.2v2.2M76.6 211.2v2.2M94 211.2v2.2" stroke="#444" stroke-width="0.6" fill="none"/>
<path d="M63.7 211.2v1.2M67 211.2v1.2M69.3 211.2v1.2M71.1 211.2v1.2M72.5 211.2v1.2M73.7 211.2v1.2M74.8 211.2v1.2M75.8 211.2v1.2M81.8 211.2v1.2M84.9 211.2v1.2M87.1 211.2v1.2M88.8 211.2v1.2M90.1 211.2v1.2M91.3 211.2v1.2M92.3 211.2v1.2M93.2 211.2v1.2" stroke="#777" stroke-width="0.4" fill="none"/>
<path d="M27.5 210.5L31.2 208L35 205L38.8 201.2L42 196.2L45 190L47.5 182.5L50 173L52 164.5L53.8 157.5L55.5 151.2L57 147L58.2 151.2L59.5 157.5L60.8 166.2L62 175.5L63.5 186.2L65 196.2L66.5 204.5L68 208.8L70 210.5L70 211.2L27.5 211.2Z" fill="#b8b8b8" stroke="#a0a0a0" stroke-width="0.5"/>
<path d="M27 210.5L30 208.2L33.8 205.5L37.5 202L40.8 197L43.8 190.5L46.2 183.8L48.8 175.5L50.5 168.8L52 162.5L53.2 157.5L54.5 152.5L56 148L57 146.5L58 149.5L59.2 155L60.5 162.5L62 173.8L63.5 185L65 195L66.8 205L68.5 209.2L70.8 210.8" fill="none" stroke="#262626" stroke-width="0.75" stroke-linejoin="round"/>
<text x="27" y="138.8" font-size="12.3">pro-B+pre-B</text>
<path d="M27.5 226.8H58" stroke="#000" stroke-width="1.6"/>
<path d="M65 226.8L57 221.8L57 231.8Z" fill="#000"/>
<text x="78.2" y="230.8" font-size="11.8">GAL1</text>
<rect x="118" y="143.8" width="74.5" height="67.4" fill="none" stroke="#909090" stroke-width="1"/>
<path d="M118 143.8V211.2H192.5" fill="none" stroke="#555" stroke-width="1"/>
<path d="M118 211.2h-2.2M118 198.3h-2.2M118 185.4h-2.2M118 172.6h-2.2M118 159.7h-2.2M118 146.8h-2.2" stroke="#444" stroke-width="0.6" fill="none"/>
<path d="M118 204.8h-1.2M118 191.9h-1.2M118 179h-1.2M118 166.1h-1.2M118 153.2h-1.2" stroke="#666" stroke-width="0.5" fill="none"/>
<text transform="translate(114.6 212.4) scale(0.330)" font-size="10" text-anchor="end" fill="#333">0</text>
<text transform="translate(114.6 199.5) scale(0.330)" font-size="10" text-anchor="end" fill="#333">20</text>
<text transform="translate(114.6 186.6) scale(0.330)" font-size="10" text-anchor="end" fill="#333">40</text>
<text transform="translate(114.6 173.8) scale(0.330)" font-size="10" text-anchor="end" fill="#333">60</text>
<text transform="translate(114.6 160.9) scale(0.330)" font-size="10" text-anchor="end" fill="#333">80</text>
<text transform="translate(114.6 148) scale(0.330)" font-size="10" text-anchor="end" fill="#333">100</text>
<text transform="translate(106.8 176.5) rotate(-90) scale(0.310)" font-size="10" text-anchor="middle" fill="#333">% of Max</text>
<text transform="translate(132 217.2) scale(0.330)" font-size="10" text-anchor="middle" fill="#333">0</text>
<text transform="translate(149.2 217.4) scale(0.320)" font-size="10" text-anchor="middle" fill="#3a3a3a">10<tspan dy="-4" font-size="7">3</tspan></text>
<text transform="translate(167.6 217.4) scale(0.320)" font-size="10" text-anchor="middle" fill="#3a3a3a">10<tspan dy="-4" font-size="7">4</tspan></text>
<text transform="translate(185 217.4) scale(0.320)" font-size="10" text-anchor="middle" fill="#3a3a3a">10<tspan dy="-4" font-size="7">5</tspan></text>
<path d="M132 211.2v2.2M149.2 211.2v2.2M167.6 211.2v2.2M185 211.2v2.2" stroke="#444" stroke-width="0.6" fill="none"/>
<path d="M154.7 211.2v1.2M158 211.2v1.2M160.3 211.2v1.2M162.1 211.2v1.2M163.5 211.2v1.2M164.7 211.2v1.2M165.8 211.2v1.2M166.8 211.2v1.2M172.8 211.2v1.2M175.9 211.2v1.2M178.1 211.2v1.2M179.8 211.2v1.2M181.1 211.2v1.2M182.3 211.2v1.2M183.3 211.2v1.2M184.2 211.2v1.2" stroke="#777" stroke-width="0.4" fill="none"/>
<path d="M118.8 210.8L125 209.5L130 207.5L133 202.5L135.5 196.2L138 188.8L140 182.5L142 176.2L143.8 170L145 161.2L146.2 152.5L147.5 149.5L149 148.5L150.5 150.5L151.8 152.5L152.8 161.2L154 173.8L155.5 187.5L157 198L158.5 205L160.5 209L162.5 210.8L162.5 211.2L118.8 211.2Z" fill="#b8b8b8" stroke="#a0a0a0" stroke-width="0.5"/>
<path d="M118.2 210.5L119 206.2L120 208L122.5 205.5L125 204L127 202.5L128 203.5L129.5 201.5L131.5 199L133.8 195L135.5 191.2L137.5 186.5L139.5 181.2L141.2 176.5L142.5 173L143.8 168L144.5 169L145.5 157.5L146.5 150L147.5 148L148.5 147L149.5 151L150.5 149.5L151.8 150.5L152.8 157.5L153.8 170L155 182.5L156.2 192.5L157.5 200L159 205.5L160.8 208.5L163.8 210.2" fill="none" stroke="#262626" stroke-width="0.75" stroke-linejoin="round"/>
<text x="119.6" y="138.8" font-size="12.3">Immature B</text>
<rect x="210" y="143.8" width="74.5" height="67.4" fill="none" stroke="#909090" stroke-width="1"/>
<path d="M210 143.8V211.2H284.5" fill="none" stroke="#555" stroke-width="1"/>
<path d="M210 211.2h-2.2M210 198.3h-2.2M210 185.4h-2.2M210 172.6h-2.2M210 159.7h-2.2M210 146.8h-2.2" stroke="#444" stroke-width="0.6" fill="none"/>
<path d="M210 204.8h-1.2M210 191.9h-1.2M210 179h-1.2M210 166.1h-1.2M210 153.2h-1.2" stroke="#666" stroke-width="0.5" fill="none"/>
<text transform="translate(206.6 212.4) scale(0.330)" font-size="10" text-anchor="end" fill="#333">0</text>
<text transform="translate(206.6 199.5) scale(0.330)" font-size="10" text-anchor="end" fill="#333">20</text>
<text transform="translate(206.6 186.6) scale(0.330)" font-size="10" text-anchor="end" fill="#333">40</text>
<text transform="translate(206.6 173.8) scale(0.330)" font-size="10" text-anchor="end" fill="#333">60</text>
<text transform="translate(206.6 160.9) scale(0.330)" font-size="10" text-anchor="end" fill="#333">80</text>
<text transform="translate(206.6 148) scale(0.330)" font-size="10" text-anchor="end" fill="#333">100</text>
<text transform="translate(198.8 176.5) rotate(-90) scale(0.310)" font-size="10" text-anchor="middle" fill="#333">% of Max</text>
<text transform="translate(224 217.2) scale(0.330)" font-size="10" text-anchor="middle" fill="#333">0</text>
<text transform="translate(241.2 217.4) scale(0.320)" font-size="10" text-anchor="middle" fill="#3a3a3a">10<tspan dy="-4" font-size="7">3</tspan></text>
<text transform="translate(259.6 217.4) scale(0.320)" font-size="10" text-anchor="middle" fill="#3a3a3a">10<tspan dy="-4" font-size="7">4</tspan></text>
<text transform="translate(277 217.4) scale(0.320)" font-size="10" text-anchor="middle" fill="#3a3a3a">10<tspan dy="-4" font-size="7">5</tspan></text>
<path d="M224 211.2v2.2M241.2 211.2v2.2M259.6 211.2v2.2M277 211.2v2.2" stroke="#444" stroke-width="0.6" fill="none"/>
<path d="M246.7 211.2v1.2M250 211.2v1.2M252.3 211.2v1.2M254.1 211.2v1.2M255.5 211.2v1.2M256.7 211.2v1.2M257.8 211.2v1.2M258.8 211.2v1.2M264.8 211.2v1.2M267.9 211.2v1.2M270.1 211.2v1.2M271.8 211.2v1.2M273.1 211.2v1.2M274.3 211.2v1.2M275.3 211.2v1.2M276.2 211.2v1.2" stroke="#777" stroke-width="0.4" fill="none"/>
<path d="M210.5 210.8L217.5 209.5L222.5 207.5L226.2 205L229.5 200.5L232.5 194.5L235 187.5L237 181.2L238.8 173.8L240.2 166.2L241.5 158.8L242.5 153.8L243.5 151L244.5 155L245.5 162.5L246.8 176.2L248 187.5L249.5 198L251 205L252.5 209L254 210.8L254 211.2L210.5 211.2Z" fill="#b8b8b8" stroke="#a0a0a0" stroke-width="0.5"/>
<path d="M210.2 210.5L210.8 207.5L213 206.2L215 205L217 204L218.8 203L219.8 200.5L220.8 202.8L222 201.5L223.2 199.2L224.5 201.2L226.2 199L228.8 196L230.8 192L232.5 187.5L234.5 182L236.2 176.5L237.5 170L238.8 164L240 156.2L241 151L242 148L242.8 147L243.2 152L244 151L244.8 156.2L245.8 165L247 177.5L248.2 188.8L249.8 199.5L251.2 205.5L253 209L255.5 210.5" fill="none" stroke="#262626" stroke-width="0.75" stroke-linejoin="round"/>
<text x="220.2" y="138.8" font-size="12.3">Mature B</text>
<rect x="379.5" y="143.8" width="74.3" height="67.4" fill="none" stroke="#909090" stroke-width="1"/>
<path d="M379.5 143.8V211.2H453.8" fill="none" stroke="#555" stroke-width="1"/>
<path d="M379.5 211.2h-2.2M379.5 198.3h-2.2M379.5 185.4h-2.2M379.5 172.6h-2.2M379.5 159.7h-2.2M379.5 146.8h-2.2" stroke="#444" stroke-width="0.6" fill="none"/>
<path d="M379.5 204.8h-1.2M379.5 191.9h-1.2M379.5 179h-1.2M379.5 166.1h-1.2M379.5 153.2h-1.2" stroke="#666" stroke-width="0.5" fill="none"/>
<text transform="translate(376.1 212.4) scale(0.330)" font-size="10" text-anchor="end" fill="#333">0</text>
<text transform="translate(376.1 199.5) scale(0.330)" font-size="10" text-anchor="end" fill="#333">20</text>
<text transform="translate(376.1 186.6) scale(0.330)" font-size="10" text-anchor="end" fill="#333">40</text>
<text transform="translate(376.1 173.8) scale(0.330)" font-size="10" text-anchor="end" fill="#333">60</text>
<text transform="translate(376.1 160.9) scale(0.330)" font-size="10" text-anchor="end" fill="#333">80</text>
<text transform="translate(376.1 148) scale(0.330)" font-size="10" text-anchor="end" fill="#333">100</text>
<text transform="translate(368.3 176.5) rotate(-90) scale(0.310)" font-size="10" text-anchor="middle" fill="#333">% of Max</text>
<text transform="translate(393.5 217.2) scale(0.330)" font-size="10" text-anchor="middle" fill="#333">0</text>
<text transform="translate(410.7 217.4) scale(0.320)" font-size="10" text-anchor="middle" fill="#3a3a3a">10<tspan dy="-4" font-size="7">3</tspan></text>
<text transform="translate(429.1 217.4) scale(0.320)" font-size="10" text-anchor="middle" fill="#3a3a3a">10<tspan dy="-4" font-size="7">4</tspan></text>
<text transform="translate(446.5 217.4) scale(0.320)" font-size="10" text-anchor="middle" fill="#3a3a3a">10<tspan dy="-4" font-size="7">5</tspan></text>
<path d="M393.5 211.2v2.2M410.7 211.2v2.2M429.1 211.2v2.2M446.5 211.2v2.2" stroke="#444" stroke-width="0.6" fill="none"/>
<path d="M416.2 211.2v1.2M419.5 211.2v1.2M421.8 211.2v1.2M423.6 211.2v1.2M425 211.2v1.2M426.2 211.2v1.2M427.3 211.2v1.2M428.3 211.2v1.2M434.3 211.2v1.2M437.4 211.2v1.2M439.6 211.2v1.2M441.3 211.2v1.2M442.6 211.2v1.2M443.8 211.2v1.2M444.8 211.2v1.2M445.7 211.2v1.2" stroke="#777" stroke-width="0.4" fill="none"/>
<path d="M380 210.8L400 210.2L403 207.5L405.5 203.8L407.5 198.8L409.5 192L411.5 183L413.2 173.8L414.8 163.8L416 156.2L417.2 150.5L418.5 148.5L419.5 149.5L420.2 156.2L421.2 166.2L422.5 178.8L423.8 190L425 199.5L426.2 206.5L427.5 210.8L427.5 211.2L380 211.2Z" fill="#b8b8b8" stroke="#a0a0a0" stroke-width="0.5"/>
<path d="M379.5 210.8L390 210.5L397.5 210L402 208.5L405 206L407.5 201.2L410 194.5L412 186.2L413.8 177.5L415.2 167.5L416.5 158.8L417.5 152L418.2 149.5L419 152.5L419.5 148L420 146.5L420.8 153.8L421.5 160L422.5 168.8L423.8 178.8L425 187.5L426.5 196.2L428 203.8L429.5 208L431.5 210.2" fill="none" stroke="#262626" stroke-width="0.75" stroke-linejoin="round"/>
<text x="359" y="138.6" font-size="12.2"><tspan font-size="12" letter-spacing="-.45">CD117</tspan><tspan x="394.6" dy="-3.4" font-size="12">+</tspan><tspan x="408.2" dy="3.4">progenitors</tspan></text>
<g clip-path="url(#c2427)">
<g filter="url(#dn)">
<rect x="45.5" y="233.2" width="114.5" height="106.8" fill-opacity=".01"/>
<ellipse cx="80.4" cy="307.2" rx="12.5" ry="12.5" fill="url(#r0)"/>
<ellipse cx="80.4" cy="307.2" rx="15.2" ry="15.2" fill="url(#r1)"/>
<ellipse cx="94" cy="294" rx="24" ry="7.5" fill="url(#r16)" transform="rotate(-40 94 294)"/>
<ellipse cx="94" cy="294" rx="29.3" ry="9.2" fill="url(#r1)" transform="rotate(-40 94 294)"/>
<ellipse cx="90" cy="285" rx="34" ry="20" fill="url(#r4)" transform="rotate(-40 90 285)"/>
<ellipse cx="85" cy="284" rx="30" ry="26" fill="url(#r12)" transform="rotate(-40 85 284)"/>
<ellipse cx="92" cy="304" rx="14" ry="9" fill="url(#r12)"/>
<ellipse cx="102.8" cy="287.6" rx="9" ry="19" fill="url(#r17)" transform="rotate(-10 102.8 287.6)"/>
<ellipse cx="102.8" cy="287.6" rx="11" ry="23.2" fill="url(#r1)" transform="rotate(-10 102.8 287.6)"/>
<ellipse cx="118" cy="275.2" rx="10.5" ry="14.5" fill="url(#r0)" transform="rotate(-6 118 275.2)"/>
<ellipse cx="118" cy="275.2" rx="12.8" ry="17.7" fill="url(#r1)" transform="rotate(-6 118 275.2)"/>
<ellipse cx="110" cy="268" rx="10" ry="8" fill="url(#r18)"/>
</g>
<ellipse cx="80.5" cy="309" rx="6" ry="4.2" fill="url(#r19)"/>
<ellipse cx="117.2" cy="276.6" rx="4.5" ry="6.5" fill="url(#r20)" transform="rotate(-6 117.2 276.6)"/>
</g>
<rect x="65.5" y="253.2" width="74.5" height="66.8" fill="none" stroke="#909090" stroke-width="1"/>
<path d="M65.5 253.2V320H140" fill="none" stroke="#555" stroke-width="1"/>
<path d="M83.8 320v2.3M87.2 320v2.3M89.5 320v2.3M91.4 320v2.3M92.9 320v2.3M94.2 320v2.3M95.3 320v2.3M96.2 320v2.3M102.5 320v2.3M105.7 320v2.3M108 320v2.3M109.8 320v2.3M111.2 320v2.3M112.4 320v2.3M113.4 320v2.3M114.4 320v2.3M120.4 320v2.3M123.4 320v2.3M125.6 320v2.3M127.2 320v2.3M128.6 320v2.3M129.7 320v2.3M130.7 320v2.3M131.6 320v2.3M76.4 320v2.3M74.7 320v2.3M73 320v2.3M71.3 320v2.3M69.6 320v2.3M67.9 320v2.3" stroke="#3c3c3c" stroke-width="0.8" fill="none"/>
<path d="M78.1 320v3.2M97.1 320v3.2M115.2 320v3.2M132.4 320v3.2" stroke="#1c1c1c" stroke-width="1.1" fill="none"/>
<path d="M65.5 302.5h-2.3M65.5 299.6h-2.3M65.5 297.6h-2.3M65.5 296h-2.3M65.5 294.7h-2.3M65.5 293.6h-2.3M65.5 292.7h-2.3M65.5 291.8h-2.3M65.5 285.8h-2.3M65.5 282.8h-2.3M65.5 280.6h-2.3M65.5 278.9h-2.3M65.5 277.5h-2.3M65.5 276.3h-2.3M65.5 275.3h-2.3M65.5 274.4h-2.3M65.5 269.6h-2.3M65.5 267.2h-2.3M65.5 265.5h-2.3M65.5 264.2h-2.3M65.5 263.2h-2.3M65.5 262.3h-2.3M65.5 261.5h-2.3M65.5 260.8h-2.3M65.5 309.1h-2.3M65.5 310.8h-2.3M65.5 312.5h-2.3M65.5 314.2h-2.3M65.5 315.9h-2.3M65.5 317.6h-2.3" stroke="#3c3c3c" stroke-width="0.8" fill="none"/>
<path d="M65.5 307.4h-3.2M65.5 291.1h-3.2M65.5 273.6h-3.2M65.5 260.2h-3.2" stroke="#1c1c1c" stroke-width="1.1" fill="none"/>
<path d="M65.5 307.4h-4.6" stroke="#111" stroke-width="1.5" fill="none"/>
<path d="M78.1 320v3.8" stroke="#111" stroke-width="1.3" fill="none"/>
<text transform="translate(78.1 326.6) scale(0.340)" font-size="10" text-anchor="middle" fill="#333">0</text>
<text transform="translate(97.1 326.8) scale(0.370)" font-size="10" text-anchor="middle" fill="#333">10<tspan dy="-4" font-size="7">3</tspan></text>
<text transform="translate(115.2 326.8) scale(0.370)" font-size="10" text-anchor="middle" fill="#333">10<tspan dy="-4" font-size="7">4</tspan></text>
<text transform="translate(132.4 326.8) scale(0.370)" font-size="10" text-anchor="middle" fill="#333">10<tspan dy="-4" font-size="7">5</tspan></text>
<text transform="translate(60.9 307.4) rotate(-90) scale(0.340)" font-size="10" text-anchor="middle" fill="#333">0</text>
<text transform="translate(61.3 291.1) rotate(-90) scale(0.370)" font-size="10" text-anchor="middle" fill="#333">10<tspan dy="-4" font-size="7">3</tspan></text>
<text transform="translate(61.3 273.6) rotate(-90) scale(0.370)" font-size="10" text-anchor="middle" fill="#333">10<tspan dy="-4" font-size="7">4</tspan></text>
<text transform="translate(61.3 260.2) rotate(-90) scale(0.370)" font-size="10" text-anchor="middle" fill="#333">10<tspan dy="-4" font-size="7">5</tspan></text>
<text transform="translate(66 330.6) scale(0.320)" font-size="10" text-anchor="middle" fill="#333">-672</text>
<text transform="translate(57.9 317.8) rotate(-90) scale(0.300)" font-size="10" text-anchor="middle" fill="#333">-508</text>
<text transform="translate(62.1 324.6) scale(0.400)" font-size="10" text-anchor="middle" fill="#111">M</text>
<ellipse cx="102.8" cy="287.6" rx="7.8" ry="17.6" fill="none" stroke="#111" stroke-width="1.5" transform="rotate(-10 102.8 287.6)"/>
<ellipse cx="118.2" cy="275" rx="9.4" ry="13.2" fill="none" stroke="#111" stroke-width="1.5" transform="rotate(-6 118.2 275)"/>
<text x="103.6" y="258.8" font-size="9.3">Granulo</text>
<text x="117" y="305.5" font-size="9.3">9%</text>
<text x="98.2" y="315" font-size="9.1">Imm. myelo</text>
<text x="52.4" y="303.8" font-size="11.8" transform="rotate(-90 52.4 303.8)">CD11b</text>
<text x="95.3" y="341.2" font-size="12.8">Gr1</text>
<g clip-path="url(#c4972)">
<g filter="url(#dn)">
<rect x="300" y="233.2" width="114.5" height="106.8" fill-opacity="0"/>
<ellipse cx="339.4" cy="301.5" rx="16" ry="24" fill="url(#r0)"/>
<ellipse cx="339.4" cy="301.5" rx="19.5" ry="29.3" fill="url(#r1)"/>
<ellipse cx="364.2" cy="299.6" rx="12" ry="9" fill="url(#r21)"/>
<ellipse cx="364.2" cy="299.6" rx="14.6" ry="11" fill="url(#r1)"/>
<ellipse cx="338" cy="275" rx="12" ry="10" fill="url(#r22)"/>
<ellipse cx="360" cy="280" rx="12" ry="9" fill="url(#r3)"/>
<ellipse cx="352" cy="294" rx="22" ry="16" fill="url(#r5)"/>
</g>
<ellipse cx="338.8" cy="300.2" rx="6" ry="12" fill="url(#r23)"/>
</g>
<rect x="320" y="253.2" width="74.5" height="66.8" fill="none" stroke="#909090" stroke-width="1"/>
<path d="M320 253.2V320H394.5" fill="none" stroke="#555" stroke-width="1"/>
<path d="M341.4 320v2.3M343.1 320v2.3M344.4 320v2.3M345.3 320v2.3M346.1 320v2.3M346.8 320v2.3M347.3 320v2.3M347.8 320v2.3M354.5 320v2.3M358.2 320v2.3M360.8 320v2.3M362.8 320v2.3M364.4 320v2.3M365.8 320v2.3M367 320v2.3M368.1 320v2.3M374.4 320v2.3M377.6 320v2.3M379.8 320v2.3M381.6 320v2.3M383 320v2.3M384.2 320v2.3M385.3 320v2.3M386.2 320v2.3M336.7 320v2.3M335 320v2.3M333.3 320v2.3M331.6 320v2.3M329.9 320v2.3M328.2 320v2.3M326.5 320v2.3M324.8 320v2.3M323.1 320v2.3" stroke="#3c3c3c" stroke-width="0.8" fill="none"/>
<path d="M338.4 320v3.2M348.3 320v3.2M369 320v3.2M387 320v3.2" stroke="#1c1c1c" stroke-width="1.1" fill="none"/>
<path d="M320 299.7h-2.3M320 298.3h-2.3M320 297.3h-2.3M320 296.5h-2.3M320 295.9h-2.3M320 295.3h-2.3M320 294.9h-2.3M320 294.5h-2.3M320 288.2h-2.3M320 284.8h-2.3M320 282.4h-2.3M320 280.5h-2.3M320 278.9h-2.3M320 277.6h-2.3M320 276.5h-2.3M320 275.5h-2.3M320 270.1h-2.3M320 267.5h-2.3M320 265.7h-2.3M320 264.3h-2.3M320 263.1h-2.3M320 262.1h-2.3M320 261.2h-2.3M320 260.5h-2.3M320 303.8h-2.3M320 305.5h-2.3M320 307.2h-2.3M320 308.9h-2.3M320 310.6h-2.3M320 312.3h-2.3M320 314h-2.3M320 315.7h-2.3M320 317.4h-2.3" stroke="#3c3c3c" stroke-width="0.8" fill="none"/>
<path d="M320 302.1h-3.2M320 294.1h-3.2M320 274.6h-3.2M320 259.8h-3.2" stroke="#1c1c1c" stroke-width="1.1" fill="none"/>
<path d="M320 302.1h-4.6" stroke="#111" stroke-width="1.5" fill="none"/>
<path d="M338.4 320v3.8" stroke="#111" stroke-width="1.3" fill="none"/>
<text transform="translate(338.4 326.6) scale(0.340)" font-size="10" text-anchor="middle" fill="#333">0</text>
<text transform="translate(348.3 326.8) scale(0.370)" font-size="10" text-anchor="middle" fill="#333">10<tspan dy="-4" font-size="7">3</tspan></text>
<text transform="translate(369 326.8) scale(0.370)" font-size="10" text-anchor="middle" fill="#333">10<tspan dy="-4" font-size="7">4</tspan></text>
<text transform="translate(387 326.8) scale(0.370)" font-size="10" text-anchor="middle" fill="#333">10<tspan dy="-4" font-size="7">5</tspan></text>
<text transform="translate(315.8 294.1) rotate(-90) scale(0.370)" font-size="10" text-anchor="middle" fill="#333">10<tspan dy="-4" font-size="7">3</tspan></text>
<text transform="translate(315.8 274.6) rotate(-90) scale(0.370)" font-size="10" text-anchor="middle" fill="#333">10<tspan dy="-4" font-size="7">4</tspan></text>
<text transform="translate(315.8 259.8) rotate(-90) scale(0.370)" font-size="10" text-anchor="middle" fill="#333">10<tspan dy="-4" font-size="7">5</tspan></text>
<text transform="translate(320.5 330.6) scale(0.320)" font-size="10" text-anchor="middle" fill="#333">-2,460</text>
<text transform="translate(312.4 317.8) rotate(-90) scale(0.300)" font-size="10" text-anchor="middle" fill="#333">-2,460</text>
<text transform="translate(316.6 324.6) scale(0.400)" font-size="10" text-anchor="middle" fill="#111">M</text>
<ellipse cx="338" cy="272" rx="11.2" ry="10.4" fill="none" stroke="#111" stroke-width="1.5"/>
<ellipse cx="360" cy="279.6" rx="11.6" ry="9.4" fill="none" stroke="#111" stroke-width="1.5"/>
<ellipse cx="364.6" cy="300" rx="12" ry="9.2" fill="none" stroke="#111" stroke-width="1.5"/>
<text x="322.4" y="260.5" font-size="9">NK 0.5%</text>
<text x="354.5" y="268" font-size="9">NKT</text>
<text x="375.6" y="268" font-size="9">0.4%</text>
<text x="379.5" y="298.8" font-size="9.3">LT</text>
<text x="305.2" y="302.6" font-size="11.9" transform="rotate(-90 305.2 302.6)">NK1.1</text>
<text x="345.2" y="339.6" font-size="12.2">CD3</text>
<rect x="22.5" y="368.8" width="74.5" height="67.4" fill="none" stroke="#909090" stroke-width="1"/>
<path d="M22.5 368.8V436.2H97" fill="none" stroke="#555" stroke-width="1"/>
<path d="M22.5 436.2h-2.2M22.5 423.3h-2.2M22.5 410.4h-2.2M22.5 397.6h-2.2M22.5 384.7h-2.2M22.5 371.8h-2.2" stroke="#444" stroke-width="0.6" fill="none"/>
<path d="M22.5 429.8h-1.2M22.5 416.9h-1.2M22.5 404h-1.2M22.5 391.1h-1.2M22.5 378.2h-1.2" stroke="#666" stroke-width="0.5" fill="none"/>
<text transform="translate(19.1 437.4) scale(0.330)" font-size="10" text-anchor="end" fill="#333">0</text>
<text transform="translate(19.1 424.5) scale(0.330)" font-size="10" text-anchor="end" fill="#333">20</text>
<text transform="translate(19.1 411.6) scale(0.330)" font-size="10" text-anchor="end" fill="#333">40</text>
<text transform="translate(19.1 398.8) scale(0.330)" font-size="10" text-anchor="end" fill="#333">60</text>
<text transform="translate(19.1 385.9) scale(0.330)" font-size="10" text-anchor="end" fill="#333">80</text>
<text transform="translate(19.1 373) scale(0.330)" font-size="10" text-anchor="end" fill="#333">100</text>
<text transform="translate(11.3 401.5) rotate(-90) scale(0.310)" font-size="10" text-anchor="middle" fill="#333">% of Max</text>
<text transform="translate(23.1 442.2) scale(0.330)" font-size="10" text-anchor="middle" fill="#333">0</text>
<text transform="translate(41.1 442.4) scale(0.320)" font-size="10" text-anchor="middle" fill="#3a3a3a">10<tspan dy="-4" font-size="7">2</tspan></text>
<text transform="translate(57.1 442.4) scale(0.320)" font-size="10" text-anchor="middle" fill="#3a3a3a">10<tspan dy="-4" font-size="7">3</tspan></text>
<text transform="translate(73.7 442.4) scale(0.320)" font-size="10" text-anchor="middle" fill="#3a3a3a">10<tspan dy="-4" font-size="7">4</tspan></text>
<text transform="translate(90.5 442.4) scale(0.320)" font-size="10" text-anchor="middle" fill="#3a3a3a">10<tspan dy="-4" font-size="7">5</tspan></text>
<path d="M23.1 436.2v2.2M41.1 436.2v2.2M57.1 436.2v2.2M73.7 436.2v2.2M90.5 436.2v2.2" stroke="#444" stroke-width="0.6" fill="none"/>
<path d="M45.9 436.2v1.2M48.7 436.2v1.2M50.7 436.2v1.2M52.3 436.2v1.2M53.6 436.2v1.2M54.6 436.2v1.2M55.5 436.2v1.2M56.4 436.2v1.2M62.1 436.2v1.2M65 436.2v1.2M67.1 436.2v1.2M68.7 436.2v1.2M70 436.2v1.2M71.1 436.2v1.2M72.1 436.2v1.2M72.9 436.2v1.2M78.8 436.2v1.2M81.7 436.2v1.2M83.8 436.2v1.2M85.4 436.2v1.2M86.8 436.2v1.2M87.9 436.2v1.2M88.9 436.2v1.2M89.7 436.2v1.2" stroke="#777" stroke-width="0.4" fill="none"/>
<path d="M38 436.5L39.5 433.8L41 428L42.2 417.5L43.5 403.8L44.8 390L45.8 380L46.8 374.5L47.5 380L48.5 390L49.8 402.5L51.2 415L52.8 425L54.5 432L56.5 435.5L58 436.5L58 436.2L38 436.2Z" fill="#b8b8b8" stroke="#a0a0a0" stroke-width="0.5"/>
<path d="M23 436.5L37.5 436.2L40.5 434.5L43 431.5L45.5 425L47.5 416.2L49.2 406.2L50.8 397.5L52 390L53.2 382.5L54.2 377.5L55 378.8L55.5 373.2L56.2 377.5L56.8 375.5L57.5 381.2L58.5 390L59.5 401.2L60.8 413.8L62 425L63.5 432.5L65 435.5" fill="none" stroke="#262626" stroke-width="0.75" stroke-linejoin="round"/>
<text x="11.4" y="364.2" font-size="12.3">Immature myelo</text>
<path d="M24.2 453H53.8" stroke="#000" stroke-width="1.6"/>
<path d="M60.8 453L52.8 448L52.8 458Z" fill="#000"/>
<text x="74.2" y="456.8" font-size="11.8">GAL1</text>
<rect x="114.2" y="369.2" width="74.6" height="67" fill="none" stroke="#909090" stroke-width="1"/>
<path d="M114.2 369.2V436.2H188.8" fill="none" stroke="#555" stroke-width="1"/>
<path d="M114.2 436.2h-2.2M114.2 423.4h-2.2M114.2 410.6h-2.2M114.2 397.8h-2.2M114.2 385h-2.2M114.2 372.2h-2.2" stroke="#444" stroke-width="0.6" fill="none"/>
<path d="M114.2 429.8h-1.2M114.2 417h-1.2M114.2 404.2h-1.2M114.2 391.4h-1.2M114.2 378.6h-1.2" stroke="#666" stroke-width="0.5" fill="none"/>
<text transform="translate(110.8 437.4) scale(0.330)" font-size="10" text-anchor="end" fill="#333">0</text>
<text transform="translate(110.8 424.6) scale(0.330)" font-size="10" text-anchor="end" fill="#333">20</text>
<text transform="translate(110.8 411.8) scale(0.330)" font-size="10" text-anchor="end" fill="#333">40</text>
<text transform="translate(110.8 399) scale(0.330)" font-size="10" text-anchor="end" fill="#333">60</text>
<text transform="translate(110.8 386.2) scale(0.330)" font-size="10" text-anchor="end" fill="#333">80</text>
<text transform="translate(110.8 373.4) scale(0.330)" font-size="10" text-anchor="end" fill="#333">100</text>
<text transform="translate(103 401.7) rotate(-90) scale(0.310)" font-size="10" text-anchor="middle" fill="#333">% of Max</text>
<text transform="translate(114.8 442.2) scale(0.330)" font-size="10" text-anchor="middle" fill="#333">0</text>
<text transform="translate(132.8 442.4) scale(0.320)" font-size="10" text-anchor="middle" fill="#3a3a3a">10<tspan dy="-4" font-size="7">2</tspan></text>
<text transform="translate(148.8 442.4) scale(0.320)" font-size="10" text-anchor="middle" fill="#3a3a3a">10<tspan dy="-4" font-size="7">3</tspan></text>
<text transform="translate(165.4 442.4) scale(0.320)" font-size="10" text-anchor="middle" fill="#3a3a3a">10<tspan dy="-4" font-size="7">4</tspan></text>
<text transform="translate(182.2 442.4) scale(0.320)" font-size="10" text-anchor="middle" fill="#3a3a3a">10<tspan dy="-4" font-size="7">5</tspan></text>
<path d="M114.8 436.2v2.2M132.8 436.2v2.2M148.8 436.2v2.2M165.4 436.2v2.2M182.2 436.2v2.2" stroke="#444" stroke-width="0.6" fill="none"/>
<path d="M137.6 436.2v1.2M140.4 436.2v1.2M142.4 436.2v1.2M144 436.2v1.2M145.3 436.2v1.2M146.3 436.2v1.2M147.2 436.2v1.2M148.1 436.2v1.2M153.8 436.2v1.2M156.7 436.2v1.2M158.8 436.2v1.2M160.4 436.2v1.2M161.7 436.2v1.2M162.8 436.2v1.2M163.8 436.2v1.2M164.6 436.2v1.2M170.5 436.2v1.2M173.4 436.2v1.2M175.5 436.2v1.2M177.1 436.2v1.2M178.5 436.2v1.2M179.6 436.2v1.2M180.6 436.2v1.2M181.4 436.2v1.2" stroke="#777" stroke-width="0.4" fill="none"/>
<path d="M122.5 436.5L125 434.5L127.5 430L129.5 421.2L131 412.5L132.2 402.5L133.5 391.2L134.5 381.2L135.5 374.5L136.2 373.5L137 380L138 391.2L139.2 406.2L140.5 418.8L142 428.8L143.5 434.5L145 436.5L145 436.2L122.5 436.2Z" fill="#b8b8b8" stroke="#a0a0a0" stroke-width="0.5"/>
<path d="M114.2 433L115 436L120 435.8L123.8 433.8L126.2 430.5L128.2 423.8L130 415L131.5 403.8L132.8 393.8L134 382.5L135 375L135.8 372L136.5 375L137.5 383.8L138.5 395L139.8 407.5L141 418.8L142.5 427.5L144.2 433L147 435.8" fill="none" stroke="#262626" stroke-width="0.75" stroke-linejoin="round"/>
<text x="126.4" y="364.2" font-size="12.3">Granulo</text>
<rect x="231.2" y="368.2" width="74.3" height="68" fill="none" stroke="#909090" stroke-width="1"/>
<path d="M231.2 368.2V436.2H305.5" fill="none" stroke="#555" stroke-width="1"/>
<path d="M231.2 436.2h-2.2M231.2 423.2h-2.2M231.2 410.2h-2.2M231.2 397.2h-2.2M231.2 384.2h-2.2M231.2 371.2h-2.2" stroke="#444" stroke-width="0.6" fill="none"/>
<path d="M231.2 429.7h-1.2M231.2 416.7h-1.2M231.2 403.7h-1.2M231.2 390.7h-1.2M231.2 377.7h-1.2" stroke="#666" stroke-width="0.5" fill="none"/>
<text transform="translate(227.8 437.4) scale(0.330)" font-size="10" text-anchor="end" fill="#333">0</text>
<text transform="translate(227.8 424.4) scale(0.330)" font-size="10" text-anchor="end" fill="#333">20</text>
<text transform="translate(227.8 411.4) scale(0.330)" font-size="10" text-anchor="end" fill="#333">40</text>
<text transform="translate(227.8 398.4) scale(0.330)" font-size="10" text-anchor="end" fill="#333">60</text>
<text transform="translate(227.8 385.4) scale(0.330)" font-size="10" text-anchor="end" fill="#333">80</text>
<text transform="translate(227.8 372.4) scale(0.330)" font-size="10" text-anchor="end" fill="#333">100</text>
<text transform="translate(220 401.2) rotate(-90) scale(0.310)" font-size="10" text-anchor="middle" fill="#333">% of Max</text>
<text transform="translate(231.8 442.2) scale(0.330)" font-size="10" text-anchor="middle" fill="#333">0</text>
<text transform="translate(249.8 442.4) scale(0.320)" font-size="10" text-anchor="middle" fill="#3a3a3a">10<tspan dy="-4" font-size="7">2</tspan></text>
<text transform="translate(265.8 442.4) scale(0.320)" font-size="10" text-anchor="middle" fill="#3a3a3a">10<tspan dy="-4" font-size="7">3</tspan></text>
<text transform="translate(282.4 442.4) scale(0.320)" font-size="10" text-anchor="middle" fill="#3a3a3a">10<tspan dy="-4" font-size="7">4</tspan></text>
<text transform="translate(299.2 442.4) scale(0.320)" font-size="10" text-anchor="middle" fill="#3a3a3a">10<tspan dy="-4" font-size="7">5</tspan></text>
<path d="M231.8 436.2v2.2M249.8 436.2v2.2M265.8 436.2v2.2M282.4 436.2v2.2M299.2 436.2v2.2" stroke="#444" stroke-width="0.6" fill="none"/>
<path d="M254.6 436.2v1.2M257.4 436.2v1.2M259.4 436.2v1.2M261 436.2v1.2M262.3 436.2v1.2M263.3 436.2v1.2M264.2 436.2v1.2M265.1 436.2v1.2M270.8 436.2v1.2M273.7 436.2v1.2M275.8 436.2v1.2M277.4 436.2v1.2M278.7 436.2v1.2M279.8 436.2v1.2M280.8 436.2v1.2M281.6 436.2v1.2M287.5 436.2v1.2M290.4 436.2v1.2M292.5 436.2v1.2M294.1 436.2v1.2M295.5 436.2v1.2M296.6 436.2v1.2M297.6 436.2v1.2M298.4 436.2v1.2" stroke="#777" stroke-width="0.4" fill="none"/>
<path d="M242 436.2L244.5 433L246.8 427.5L248.5 418.8L250 407.5L251.2 396.2L252.2 385L253 376.2L253.5 373.2L254.2 380L255 391.2L256 403.8L257.2 417.5L258.5 427.5L260 434L261.5 436.2L261.5 436.2L242 436.2Z" fill="#b8b8b8" stroke="#a0a0a0" stroke-width="0.5"/>
<path d="M231.2 432L232 435.2L235 435.8L242.5 435.8L245.8 433.8L248.2 430L250.5 423.8L252 416.2L253.2 410L254 405.5L254.8 412.5L255.5 406.2L256.2 398.8L257.2 391.8L258.2 396.5L259.2 390L260 386L261 389L261.8 382.5L262.5 377.5L263.5 380L264.2 375L265 372.5L265.8 374L266.5 371L267 377.5L267.8 386.2L268.5 398.8L269.5 397L270.2 402.5L271.2 412.5L272.5 420L274 427L275.8 432.5L278 435.2" fill="none" stroke="#262626" stroke-width="0.75" stroke-linejoin="round"/>
<text x="260.4" y="364.2" font-size="12.3">NK</text>
<rect x="322.5" y="368.2" width="74.5" height="68" fill="none" stroke="#909090" stroke-width="1"/>
<path d="M322.5 368.2V436.2H397" fill="none" stroke="#555" stroke-width="1"/>
<path d="M322.5 436.2h-2.2M322.5 423.2h-2.2M322.5 410.2h-2.2M322.5 397.2h-2.2M322.5 384.2h-2.2M322.5 371.2h-2.2" stroke="#444" stroke-width="0.6" fill="none"/>
<path d="M322.5 429.7h-1.2M322.5 416.7h-1.2M322.5 403.7h-1.2M322.5 390.7h-1.2M322.5 377.7h-1.2" stroke="#666" stroke-width="0.5" fill="none"/>
<text transform="translate(319.1 437.4) scale(0.330)" font-size="10" text-anchor="end" fill="#333">0</text>
<text transform="translate(319.1 424.4) scale(0.330)" font-size="10" text-anchor="end" fill="#333">20</text>
<text transform="translate(319.1 411.4) scale(0.330)" font-size="10" text-anchor="end" fill="#333">40</text>
<text transform="translate(319.1 398.4) scale(0.330)" font-size="10" text-anchor="end" fill="#333">60</text>
<text transform="translate(319.1 385.4) scale(0.330)" font-size="10" text-anchor="end" fill="#333">80</text>
<text transform="translate(319.1 372.4) scale(0.330)" font-size="10" text-anchor="end" fill="#333">100</text>
<text transform="translate(311.3 401.2) rotate(-90) scale(0.310)" font-size="10" text-anchor="middle" fill="#333">% of Max</text>
<text transform="translate(323.1 442.2) scale(0.330)" font-size="10" text-anchor="middle" fill="#333">0</text>
<text transform="translate(341.1 442.4) scale(0.320)" font-size="10" text-anchor="middle" fill="#3a3a3a">10<tspan dy="-4" font-size="7">2</tspan></text>
<text transform="translate(357.1 442.4) scale(0.320)" font-size="10" text-anchor="middle" fill="#3a3a3a">10<tspan dy="-4" font-size="7">3</tspan></text>
<text transform="translate(373.7 442.4) scale(0.320)" font-size="10" text-anchor="middle" fill="#3a3a3a">10<tspan dy="-4" font-size="7">4</tspan></text>
<text transform="translate(390.5 442.4) scale(0.320)" font-size="10" text-anchor="middle" fill="#3a3a3a">10<tspan dy="-4" font-size="7">5</tspan></text>
<path d="M323.1 436.2v2.2M341.1 436.2v2.2M357.1 436.2v2.2M373.7 436.2v2.2M390.5 436.2v2.2" stroke="#444" stroke-width="0.6" fill="none"/>
<path d="M345.9 436.2v1.2M348.7 436.2v1.2M350.7 436.2v1.2M352.3 436.2v1.2M353.6 436.2v1.2M354.6 436.2v1.2M355.5 436.2v1.2M356.4 436.2v1.2M362.1 436.2v1.2M365 436.2v1.2M367.1 436.2v1.2M368.7 436.2v1.2M370 436.2v1.2M371.1 436.2v1.2M372.1 436.2v1.2M372.9 436.2v1.2M378.8 436.2v1.2M381.7 436.2v1.2M383.8 436.2v1.2M385.4 436.2v1.2M386.8 436.2v1.2M387.9 436.2v1.2M388.9 436.2v1.2M389.7 436.2v1.2" stroke="#777" stroke-width="0.4" fill="none"/>
<path d="M337.2 435.8L338.5 431.5L339.8 427.5L340.8 422.5L341.5 417L342.5 408L343.2 399.8L344 390L344.5 382.5L345 377L345.5 372.1L346 376L346.4 379L346.9 380L347.2 382.5L347.8 393.8L348.1 403.2L348.6 412.5L349 420.5L349.5 428L349.9 432.6L350.4 435.8L350.4 436.2L337.2 436.2Z" fill="#b8b8b8" stroke="#a0a0a0" stroke-width="0.5"/>
<path d="M322.5 436.2L327.5 435.8L332 435.2L334.5 434.5L336.4 433.5L338.1 431.8L338.9 432.6L339.8 430.5L340.7 428.2L341.5 424.5L342.4 420.5L343.1 417.5L343.8 415.4L344.2 414.5L344.6 416.2L345 410L345.4 403.2L345.8 393.8L346.2 385.9L346.6 382L346.9 379.9L347.2 383L347.6 381.6L348 378.8L348.5 376.4L349 373.8L349.5 371.5L349.9 374L350.4 376.4L350.9 377L351.4 378.2L351.9 383L352.4 389.4L353 396.2L353.6 403.2L354.5 408.8L355.4 413.6L356.2 420L357.1 425.8L357.8 428.8L358.3 430.9L359.1 432.8L360.1 434L361.1 434.9L362.3 435.4" fill="none" stroke="#262626" stroke-width="0.75" stroke-linejoin="round"/>
<text x="348.4" y="364.2" font-size="12.3">NKT</text>
<rect x="414.2" y="368.2" width="74" height="68" fill="none" stroke="#909090" stroke-width="1"/>
<path d="M414.2 368.2V436.2H488.2" fill="none" stroke="#555" stroke-width="1"/>
<path d="M414.2 436.2h-2.2M414.2 423.2h-2.2M414.2 410.2h-2.2M414.2 397.2h-2.2M414.2 384.2h-2.2M414.2 371.2h-2.2" stroke="#444" stroke-width="0.6" fill="none"/>
<path d="M414.2 429.7h-1.2M414.2 416.7h-1.2M414.2 403.7h-1.2M414.2 390.7h-1.2M414.2 377.7h-1.2" stroke="#666" stroke-width="0.5" fill="none"/>
<text transform="translate(410.8 437.4) scale(0.330)" font-size="10" text-anchor="end" fill="#333">0</text>
<text transform="translate(410.8 424.4) scale(0.330)" font-size="10" text-anchor="end" fill="#333">20</text>
<text transform="translate(410.8 411.4) scale(0.330)" font-size="10" text-anchor="end" fill="#333">40</text>
<text transform="translate(410.8 398.4) scale(0.330)" font-size="10" text-anchor="end" fill="#333">60</text>
<text transform="translate(410.8 385.4) scale(0.330)" font-size="10" text-anchor="end" fill="#333">80</text>
<text transform="translate(410.8 372.4) scale(0.330)" font-size="10" text-anchor="end" fill="#333">100</text>
<text transform="translate(403 401.2) rotate(-90) scale(0.310)" font-size="10" text-anchor="middle" fill="#333">% of Max</text>
<text transform="translate(414.8 442.2) scale(0.330)" font-size="10" text-anchor="middle" fill="#333">0</text>
<text transform="translate(432.8 442.4) scale(0.320)" font-size="10" text-anchor="middle" fill="#3a3a3a">10<tspan dy="-4" font-size="7">2</tspan></text>
<text transform="translate(448.8 442.4) scale(0.320)" font-size="10" text-anchor="middle" fill="#3a3a3a">10<tspan dy="-4" font-size="7">3</tspan></text>
<text transform="translate(465.4 442.4) scale(0.320)" font-size="10" text-anchor="middle" fill="#3a3a3a">10<tspan dy="-4" font-size="7">4</tspan></text>
<text transform="translate(482.2 442.4) scale(0.320)" font-size="10" text-anchor="middle" fill="#3a3a3a">10<tspan dy="-4" font-size="7">5</tspan></text>
<path d="M414.8 436.2v2.2M432.8 436.2v2.2M448.8 436.2v2.2M465.4 436.2v2.2M482.2 436.2v2.2" stroke="#444" stroke-width="0.6" fill="none"/>
<path d="M437.6 436.2v1.2M440.4 436.2v1.2M442.4 436.2v1.2M444 436.2v1.2M445.3 436.2v1.2M446.3 436.2v1.2M447.2 436.2v1.2M448.1 436.2v1.2M453.8 436.2v1.2M456.7 436.2v1.2M458.8 436.2v1.2M460.4 436.2v1.2M461.7 436.2v1.2M462.8 436.2v1.2M463.8 436.2v1.2M464.6 436.2v1.2M470.5 436.2v1.2M473.4 436.2v1.2M475.5 436.2v1.2M477.1 436.2v1.2M478.5 436.2v1.2M479.6 436.2v1.2M480.6 436.2v1.2M481.4 436.2v1.2" stroke="#777" stroke-width="0.4" fill="none"/>
<path d="M426.6 435.8L428 432.5L429.2 429.2L430.2 423.8L431.2 417L432.2 408L433 399.8L434 390L434.8 382.5L435.5 377L436.1 373L436.8 378L437.4 384.2L438 393.8L438.8 403.2L439.5 412.5L440.1 420.5L440.8 428L441.2 433.5L441.9 435.8L441.9 436.2L426.6 436.2Z" fill="#b8b8b8" stroke="#a0a0a0" stroke-width="0.5"/>
<path d="M414.2 430.5L414.8 435.5L417.5 435L420 434.8L422.2 434.4L424.5 433.2L426.6 431.8L428 429.5L429.2 426.5L430.2 423.5L431 420.5L431.8 415L432.2 410.2L433 401.2L433.5 394.5L434.2 387.5L434.8 382.5L435.5 376.5L436.1 371.5L436.6 377L437.2 382.5L437.8 389L438.2 394.5L439 400.5L439.6 405L440.1 410.5L440.6 415.2L441.2 417.2L441.9 418.8L442.5 419.8L443.4 421.4L444 424L444.8 426.5L445.5 428.2L446.5 430L447.8 431.5L449.1 432.6L450.8 433.8L452.5 434.8L454.5 435.2" fill="none" stroke="#262626" stroke-width="0.75" stroke-linejoin="round"/>
<text x="444" y="364.2" font-size="12.3">LT</text>
<g clip-path="url(#c3680)">
<g filter="url(#dn)">
<rect x="4.2" y="471.2" width="115.8" height="107.6" fill-opacity="0"/>
<ellipse cx="43.5" cy="540.5" rx="20.5" ry="11" fill="url(#r0)"/>
<ellipse cx="43.5" cy="540.5" rx="25" ry="13.4" fill="url(#r1)"/>
<ellipse cx="42.8" cy="523.5" rx="13.5" ry="15" fill="url(#r0)"/>
<ellipse cx="42.8" cy="523.5" rx="16.5" ry="18.3" fill="url(#r1)"/>
<ellipse cx="43" cy="532" rx="10" ry="7" fill="url(#r0)"/>
<ellipse cx="43" cy="532" rx="12.2" ry="8.5" fill="url(#r1)"/>
<ellipse cx="58" cy="543" rx="13" ry="7.5" fill="url(#r0)" transform="rotate(5 58 543)"/>
<ellipse cx="58" cy="543" rx="15.9" ry="9.2" fill="url(#r1)" transform="rotate(5 58 543)"/>
<ellipse cx="70.3" cy="544" rx="10.5" ry="12" fill="url(#r0)" transform="rotate(-10 70.3 544)"/>
<ellipse cx="70.3" cy="544" rx="12.8" ry="14.6" fill="url(#r1)" transform="rotate(-10 70.3 544)"/>
<ellipse cx="60" cy="525" rx="24" ry="13" fill="url(#r12)"/>
<ellipse cx="56" cy="535" rx="30" ry="20" fill="url(#r24)"/>
<ellipse cx="80" cy="535" rx="22" ry="20" fill="url(#r24)"/>
</g>
<ellipse cx="43.8" cy="540.6" rx="11" ry="4.8" fill="url(#r25)"/>
<ellipse cx="42" cy="526.4" rx="5" ry="5.5" fill="url(#r26)"/>
<ellipse cx="69.9" cy="544.6" rx="4.4" ry="6.4" fill="url(#r27)" transform="rotate(-10 69.9 544.6)"/>
</g>
<rect x="24.2" y="491.2" width="75.8" height="67.6" fill="none" stroke="#909090" stroke-width="1"/>
<path d="M24.2 491.2V558.8H100" fill="none" stroke="#555" stroke-width="1"/>
<path d="M45.6 558.8v2.3M47.9 558.8v2.3M49.5 558.8v2.3M50.7 558.8v2.3M51.7 558.8v2.3M52.6 558.8v2.3M53.3 558.8v2.3M54 558.8v2.3M60.6 558.8v2.3M64.1 558.8v2.3M66.6 558.8v2.3M68.5 558.8v2.3M70.1 558.8v2.3M71.4 558.8v2.3M72.6 558.8v2.3M73.6 558.8v2.3M79.8 558.8v2.3M82.8 558.8v2.3M85 558.8v2.3M86.7 558.8v2.3M88.1 558.8v2.3M89.3 558.8v2.3M90.3 558.8v2.3M91.2 558.8v2.3M40 558.8v2.3M38.3 558.8v2.3M36.6 558.8v2.3M34.9 558.8v2.3M33.2 558.8v2.3M31.5 558.8v2.3M29.8 558.8v2.3M28.1 558.8v2.3M26.4 558.8v2.3" stroke="#3c3c3c" stroke-width="0.8" fill="none"/>
<path d="M41.7 558.8v3.2M54.6 558.8v3.2M74.5 558.8v3.2M92 558.8v3.2" stroke="#1c1c1c" stroke-width="1.1" fill="none"/>
<path d="M24.2 541.9h-2.3M24.2 538.6h-2.3M24.2 536.3h-2.3M24.2 534.5h-2.3M24.2 533.1h-2.3M24.2 531.9h-2.3M24.2 530.8h-2.3M24.2 529.8h-2.3M24.2 524h-2.3M24.2 521.1h-2.3M24.2 519.1h-2.3M24.2 517.5h-2.3M24.2 516.2h-2.3M24.2 515.1h-2.3M24.2 514.1h-2.3M24.2 513.3h-2.3M24.2 508.2h-2.3M24.2 505.6h-2.3M24.2 503.8h-2.3M24.2 502.4h-2.3M24.2 501.3h-2.3M24.2 500.3h-2.3M24.2 499.5h-2.3M24.2 498.8h-2.3M24.2 549.1h-2.3M24.2 550.8h-2.3M24.2 552.5h-2.3M24.2 554.2h-2.3M24.2 555.9h-2.3" stroke="#3c3c3c" stroke-width="0.8" fill="none"/>
<path d="M24.2 547.4h-3.2M24.2 529h-3.2M24.2 512.5h-3.2M24.2 498.1h-3.2" stroke="#1c1c1c" stroke-width="1.1" fill="none"/>
<path d="M24.2 547.4h-4.6" stroke="#111" stroke-width="1.5" fill="none"/>
<path d="M41.7 558.8v3.8" stroke="#111" stroke-width="1.3" fill="none"/>
<text transform="translate(41.7 565.4) scale(0.340)" font-size="10" text-anchor="middle" fill="#333">0</text>
<text transform="translate(54.6 565.6) scale(0.370)" font-size="10" text-anchor="middle" fill="#333">10<tspan dy="-4" font-size="7">3</tspan></text>
<text transform="translate(74.5 565.6) scale(0.370)" font-size="10" text-anchor="middle" fill="#333">10<tspan dy="-4" font-size="7">4</tspan></text>
<text transform="translate(92 565.6) scale(0.370)" font-size="10" text-anchor="middle" fill="#333">10<tspan dy="-4" font-size="7">5</tspan></text>
<text transform="translate(19.6 547.4) rotate(-90) scale(0.340)" font-size="10" text-anchor="middle" fill="#333">0</text>
<text transform="translate(20 529) rotate(-90) scale(0.370)" font-size="10" text-anchor="middle" fill="#333">10<tspan dy="-4" font-size="7">3</tspan></text>
<text transform="translate(20 512.5) rotate(-90) scale(0.370)" font-size="10" text-anchor="middle" fill="#333">10<tspan dy="-4" font-size="7">4</tspan></text>
<text transform="translate(20 498.1) rotate(-90) scale(0.370)" font-size="10" text-anchor="middle" fill="#333">10<tspan dy="-4" font-size="7">5</tspan></text>
<text transform="translate(24.7 569.4) scale(0.320)" font-size="10" text-anchor="middle" fill="#333">-1,839</text>
<text transform="translate(16.6 556.6) rotate(-90) scale(0.300)" font-size="10" text-anchor="middle" fill="#333">-266</text>
<text transform="translate(20.8 563.4) scale(0.400)" font-size="10" text-anchor="middle" fill="#111">M</text>
<ellipse cx="70.8" cy="543.4" rx="9.8" ry="11.4" fill="none" stroke="#111" stroke-width="1.5" transform="rotate(-14 70.8 543.4)"/>
<text x="66.8" y="525.8" font-size="9.3">Erythro</text>
<text x="14.4" y="538.4" font-size="12" transform="rotate(-90 14.4 538.4)">B220</text>
<text x="44" y="580" font-size="12.5">Ter119</text>
<g clip-path="url(#c4846)">
<g filter="url(#dn)">
<rect x="120.8" y="471.2" width="115" height="108.3" fill-opacity="0"/>
<path d="M156.5 513L181.5 513L182 534L156.5 534Z" fill-opacity=".8" filter="url(#b16)"/>
<ellipse cx="164" cy="542.5" rx="22" ry="11" fill="url(#r0)"/>
<ellipse cx="164" cy="542.5" rx="26.8" ry="13.4" fill="url(#r1)"/>
<ellipse cx="149" cy="540" rx="8" ry="5.5" fill="url(#r0)"/>
<ellipse cx="149" cy="540" rx="9.8" ry="6.7" fill="url(#r1)"/>
<ellipse cx="157.5" cy="548" rx="7.5" ry="6.5" fill="url(#r0)"/>
<ellipse cx="157.5" cy="548" rx="9.2" ry="7.9" fill="url(#r1)"/>
<ellipse cx="190" cy="523" rx="16" ry="9" fill="url(#r9)"/>
<ellipse cx="197" cy="521.5" rx="9" ry="5.5" fill="url(#r28)"/>
<ellipse cx="192" cy="538" rx="20" ry="11" fill="url(#r18)"/>
<ellipse cx="200" cy="530" rx="16" ry="18" fill="url(#r29)"/>
</g>
<ellipse cx="160.5" cy="541.6" rx="11.5" ry="6.4" fill="url(#r25)" transform="rotate(-18 160.5 541.6)"/>
<ellipse cx="157" cy="547" rx="4.5" ry="4.5" fill="url(#r15)"/>
<ellipse cx="167" cy="526" rx="8" ry="3.4" fill="url(#r30)"/>
</g>
<rect x="140.8" y="491.2" width="75" height="68.3" fill="none" stroke="#909090" stroke-width="1"/>
<path d="M140.8 491.2V559.5H215.8" fill="none" stroke="#555" stroke-width="1"/>
<path d="M161.5 559.5v2.3M163.8 559.5v2.3M165.3 559.5v2.3M166.6 559.5v2.3M167.6 559.5v2.3M168.4 559.5v2.3M169.2 559.5v2.3M169.8 559.5v2.3M176.5 559.5v2.3M180.1 559.5v2.3M182.6 559.5v2.3M184.6 559.5v2.3M186.2 559.5v2.3M187.6 559.5v2.3M188.7 559.5v2.3M189.8 559.5v2.3M195.7 559.5v2.3M198.7 559.5v2.3M200.8 559.5v2.3M202.4 559.5v2.3M203.7 559.5v2.3M204.8 559.5v2.3M205.8 559.5v2.3M206.6 559.5v2.3M156 559.5v2.3M154.3 559.5v2.3M152.6 559.5v2.3M150.9 559.5v2.3M149.2 559.5v2.3M147.5 559.5v2.3M145.8 559.5v2.3M144.1 559.5v2.3M142.4 559.5v2.3" stroke="#3c3c3c" stroke-width="0.8" fill="none"/>
<path d="M157.7 559.5v3.2M170.4 559.5v3.2M190.7 559.5v3.2M207.4 559.5v3.2" stroke="#1c1c1c" stroke-width="1.1" fill="none"/>
<path d="M140.8 541.7h-2.3M140.8 538.3h-2.3M140.8 536h-2.3M140.8 534.1h-2.3M140.8 532.6h-2.3M140.8 531.3h-2.3M140.8 530.2h-2.3M140.8 529.3h-2.3M140.8 523.6h-2.3M140.8 520.8h-2.3M140.8 518.8h-2.3M140.8 517.3h-2.3M140.8 516h-2.3M140.8 515h-2.3M140.8 514h-2.3M140.8 513.2h-2.3M140.8 508h-2.3M140.8 505.4h-2.3M140.8 503.6h-2.3M140.8 502.2h-2.3M140.8 501h-2.3M140.8 500h-2.3M140.8 499.1h-2.3M140.8 498.4h-2.3M140.8 549.1h-2.3M140.8 550.8h-2.3M140.8 552.5h-2.3M140.8 554.2h-2.3M140.8 555.9h-2.3M140.8 557.6h-2.3" stroke="#3c3c3c" stroke-width="0.8" fill="none"/>
<path d="M140.8 547.4h-3.2M140.8 528.4h-3.2M140.8 512.5h-3.2M140.8 497.7h-3.2" stroke="#1c1c1c" stroke-width="1.1" fill="none"/>
<path d="M140.8 547.4h-4.6" stroke="#111" stroke-width="1.5" fill="none"/>
<path d="M157.7 559.5v3.8" stroke="#111" stroke-width="1.3" fill="none"/>
<text transform="translate(157.7 566.1) scale(0.340)" font-size="10" text-anchor="middle" fill="#333">0</text>
<text transform="translate(170.4 566.3) scale(0.370)" font-size="10" text-anchor="middle" fill="#333">10<tspan dy="-4" font-size="7">3</tspan></text>
<text transform="translate(190.7 566.3) scale(0.370)" font-size="10" text-anchor="middle" fill="#333">10<tspan dy="-4" font-size="7">4</tspan></text>
<text transform="translate(207.4 566.3) scale(0.370)" font-size="10" text-anchor="middle" fill="#333">10<tspan dy="-4" font-size="7">5</tspan></text>
<text transform="translate(136.2 547.4) rotate(-90) scale(0.340)" font-size="10" text-anchor="middle" fill="#333">0</text>
<text transform="translate(136.6 528.4) rotate(-90) scale(0.370)" font-size="10" text-anchor="middle" fill="#333">10<tspan dy="-4" font-size="7">3</tspan></text>
<text transform="translate(136.6 512.5) rotate(-90) scale(0.370)" font-size="10" text-anchor="middle" fill="#333">10<tspan dy="-4" font-size="7">4</tspan></text>
<text transform="translate(136.6 497.7) rotate(-90) scale(0.370)" font-size="10" text-anchor="middle" fill="#333">10<tspan dy="-4" font-size="7">5</tspan></text>
<text transform="translate(141.3 570.1) scale(0.320)" font-size="10" text-anchor="middle" fill="#333">-1,391</text>
<text transform="translate(133.2 557.3) rotate(-90) scale(0.300)" font-size="10" text-anchor="middle" fill="#333">-266</text>
<text transform="translate(137.4 564.1) scale(0.400)" font-size="10" text-anchor="middle" fill="#111">M</text>
<ellipse cx="196.8" cy="521.4" rx="12" ry="8" fill="none" stroke="#111" stroke-width="1.5"/>
<text x="173.6" y="505.8" font-size="9.2">pDC 1.4%</text>
<text x="124.4" y="535.8" font-size="12" transform="rotate(-90 124.4 535.8)">B220</text>
<text x="160" y="580" font-size="12.6">CD11c</text>
<g clip-path="url(#c6318)">
<g filter="url(#dn)">
<rect x="266.2" y="473.8" width="114.6" height="107" fill-opacity="0"/>
<ellipse cx="332" cy="538" rx="17.5" ry="17" fill="url(#r0)"/>
<ellipse cx="332" cy="538" rx="21.3" ry="20.7" fill="url(#r1)"/>
<path d="M330 548L346 538L346.5 555L344.5 559L338 556Z" fill-opacity=".7" filter="url(#b12)"/>
<path d="M299.5 530L325 527L330 552L312 552.5L299.5 547Z" fill-opacity=".5" filter="url(#b18)"/>
<ellipse cx="320" cy="523" rx="28" ry="10" fill="url(#r31)" transform="rotate(-6 320 523)"/>
<ellipse cx="322" cy="516" rx="28" ry="10" fill="url(#r32)" transform="rotate(-8 322 516)"/>
<ellipse cx="314.5" cy="507.5" rx="12" ry="7.5" fill="url(#r33)" transform="rotate(5 314.5 507.5)"/>
<ellipse cx="333.5" cy="513.5" rx="10.5" ry="5.5" fill="url(#r34)" transform="rotate(-28 333.5 513.5)"/>
</g>
<ellipse cx="331.9" cy="537.6" rx="11.5" ry="11.5" fill="url(#r35)"/>
</g>
<rect x="286.2" y="493.8" width="74.6" height="67" fill="none" stroke="#909090" stroke-width="1"/>
<path d="M286.2 493.8V560.8H360.8" fill="none" stroke="#555" stroke-width="1"/>
<path d="M305.4 560.8v2.3M308.5 560.8v2.3M310.6 560.8v2.3M312.3 560.8v2.3M313.7 560.8v2.3M314.8 560.8v2.3M315.8 560.8v2.3M316.7 560.8v2.3M323.1 560.8v2.3M326.4 560.8v2.3M328.8 560.8v2.3M330.6 560.8v2.3M332.1 560.8v2.3M333.3 560.8v2.3M334.4 560.8v2.3M335.3 560.8v2.3M341.1 560.8v2.3M343.9 560.8v2.3M346 560.8v2.3M347.5 560.8v2.3M348.8 560.8v2.3M349.9 560.8v2.3M350.8 560.8v2.3M351.7 560.8v2.3M298.5 560.8v2.3M296.8 560.8v2.3M295.1 560.8v2.3M293.4 560.8v2.3M291.7 560.8v2.3M290 560.8v2.3M288.3 560.8v2.3" stroke="#3c3c3c" stroke-width="0.8" fill="none"/>
<path d="M300.2 560.8v3.2M317.5 560.8v3.2M336.2 560.8v3.2M352.4 560.8v3.2" stroke="#1c1c1c" stroke-width="1.1" fill="none"/>
<path d="M286.2 540.7h-2.3M286.2 538.1h-2.3M286.2 536.3h-2.3M286.2 534.9h-2.3M286.2 533.7h-2.3M286.2 532.7h-2.3M286.2 531.8h-2.3M286.2 531.1h-2.3M286.2 525.3h-2.3M286.2 522.3h-2.3M286.2 520.2h-2.3M286.2 518.5h-2.3M286.2 517.2h-2.3M286.2 516h-2.3M286.2 515h-2.3M286.2 514.2h-2.3M286.2 508.9h-2.3M286.2 506.3h-2.3M286.2 504.5h-2.3M286.2 503.1h-2.3M286.2 501.9h-2.3M286.2 500.9h-2.3M286.2 500h-2.3M286.2 499.3h-2.3M286.2 546.9h-2.3M286.2 548.6h-2.3M286.2 550.3h-2.3M286.2 552h-2.3M286.2 553.7h-2.3M286.2 555.4h-2.3M286.2 557.1h-2.3M286.2 558.8h-2.3" stroke="#3c3c3c" stroke-width="0.8" fill="none"/>
<path d="M286.2 545.2h-3.2M286.2 530.4h-3.2M286.2 513.4h-3.2M286.2 498.6h-3.2" stroke="#1c1c1c" stroke-width="1.1" fill="none"/>
<path d="M286.2 545.2h-4.6" stroke="#111" stroke-width="1.5" fill="none"/>
<path d="M300.2 560.8v3.8" stroke="#111" stroke-width="1.3" fill="none"/>
<text transform="translate(300.2 567.4) scale(0.340)" font-size="10" text-anchor="middle" fill="#333">0</text>
<text transform="translate(317.5 567.6) scale(0.370)" font-size="10" text-anchor="middle" fill="#333">10<tspan dy="-4" font-size="7">3</tspan></text>
<text transform="translate(336.2 567.6) scale(0.370)" font-size="10" text-anchor="middle" fill="#333">10<tspan dy="-4" font-size="7">4</tspan></text>
<text transform="translate(352.4 567.6) scale(0.370)" font-size="10" text-anchor="middle" fill="#333">10<tspan dy="-4" font-size="7">5</tspan></text>
<text transform="translate(281.6 545.2) rotate(-90) scale(0.340)" font-size="10" text-anchor="middle" fill="#333">0</text>
<text transform="translate(282 530.4) rotate(-90) scale(0.370)" font-size="10" text-anchor="middle" fill="#333">10<tspan dy="-4" font-size="7">3</tspan></text>
<text transform="translate(282 513.4) rotate(-90) scale(0.370)" font-size="10" text-anchor="middle" fill="#333">10<tspan dy="-4" font-size="7">4</tspan></text>
<text transform="translate(282 498.6) rotate(-90) scale(0.370)" font-size="10" text-anchor="middle" fill="#333">10<tspan dy="-4" font-size="7">5</tspan></text>
<text transform="translate(286.7 571.4) scale(0.320)" font-size="10" text-anchor="middle" fill="#333">-640</text>
<text transform="translate(278.6 558.6) rotate(-90) scale(0.300)" font-size="10" text-anchor="middle" fill="#333">-1,391</text>
<text transform="translate(282.8 565.4) scale(0.400)" font-size="10" text-anchor="middle" fill="#111">M</text>
<ellipse cx="313.8" cy="507" rx="12.5" ry="8.6" fill="none" stroke="#111" stroke-width="1.5" transform="rotate(6 313.8 507)"/>
<ellipse cx="335.8" cy="512" rx="12.6" ry="7.4" fill="none" stroke="#111" stroke-width="1.5" transform="rotate(-30 335.8 512)"/>
<text x="288.6" y="502" font-size="8.9">IDC</text>
<text x="339.4" y="501.4" font-size="8.8">mDC</text>
<text x="287.4" y="521.4" font-size="9.3">0.3%</text>
<text x="341.2" y="525" font-size="9.3">0.7%</text>
<text x="245.2" y="487.2" font-size="11.6">B220<tspan x="274.6" dy="-3">−</tspan><tspan x="282" dy="3">CD3</tspan><tspan x="305.3" dy="-3">−</tspan><tspan x="311.8" dy="3">NK1.1</tspan><tspan x="345.1" dy="-3">−</tspan><tspan x="358" dy="3">Ter119</tspan><tspan x="394.8" dy="-3">−</tspan></text>
<text x="273.6" y="541.4" font-size="12" transform="rotate(-90 273.6 541.4)">CD11c</text>
<text x="302.8" y="580.4" font-size="12.6">CD11b</text>
<g clip-path="url(#c7726)">
<g filter="url(#dn)">
<rect x="408.8" y="471.2" width="115.4" height="107.6" fill-opacity="0"/>
<path d="M470 504.5L489 504L497.5 512L498.5 521L496 537L489.5 549L484.5 556.5L479 556.5L469 548L462.5 533L459.5 519L463 509.5Z" fill-opacity=".8" filter="url(#b20)"/>
<ellipse cx="478" cy="525" rx="30" ry="30" fill="url(#r5)"/>
<ellipse cx="456" cy="519" rx="22" ry="13" fill="url(#r4)" transform="rotate(-12 456 519)"/>
<ellipse cx="442" cy="521" rx="17" ry="7.5" fill="url(#r36)"/>
<ellipse cx="461" cy="543" rx="11" ry="10" fill="url(#r4)"/>
<ellipse cx="447" cy="544.5" rx="13" ry="6" fill="url(#r37)"/>
</g>
<ellipse cx="479.7" cy="523" rx="9" ry="9.5" fill="url(#r38)"/>
<ellipse cx="480.6" cy="543.6" rx="8.5" ry="13" fill="url(#r39)"/>
<ellipse cx="480" cy="533" rx="4.5" ry="9" fill="url(#r40)"/>
</g>
<rect x="428.8" y="491.2" width="75.4" height="67.6" fill="none" stroke="#909090" stroke-width="1"/>
<path d="M428.8 491.2V558.8H504.2" fill="none" stroke="#555" stroke-width="1"/>
<path d="M449.2 558.8v1.2M452.2 558.8v1.2M454.3 558.8v1.2M455.9 558.8v1.2M457.3 558.8v1.2M458.4 558.8v1.2M459.4 558.8v1.2M460.2 558.8v1.2M466.7 558.8v1.2M470.1 558.8v1.2M472.5 558.8v1.2M474.4 558.8v1.2M475.9 558.8v1.2M477.1 558.8v1.2M478.2 558.8v1.2M479.2 558.8v1.2M485.3 558.8v1.2M488.4 558.8v1.2M490.5 558.8v1.2M492.2 558.8v1.2M493.6 558.8v1.2M494.7 558.8v1.2M495.7 558.8v1.2M496.6 558.8v1.2M442.4 558.8v1.2M440.7 558.8v1.2M439 558.8v1.2M437.3 558.8v1.2M435.6 558.8v1.2M433.9 558.8v1.2M432.2 558.8v1.2M430.5 558.8v1.2" stroke="#999" stroke-width="0.5" fill="none"/>
<path d="M444.1 558.8v2.2M461 558.8v2.2M480.1 558.8v2.2M497.4 558.8v2.2" stroke="#666" stroke-width="0.7" fill="none"/>
<path d="M428.8 540.9h-1.2M428.8 538h-1.2M428.8 536h-1.2M428.8 534.4h-1.2M428.8 533.1h-1.2M428.8 532h-1.2M428.8 531h-1.2M428.8 530.2h-1.2M428.8 524.3h-1.2M428.8 521.3h-1.2M428.8 519.2h-1.2M428.8 517.6h-1.2M428.8 516.2h-1.2M428.8 515.1h-1.2M428.8 514.1h-1.2M428.8 513.3h-1.2M428.8 508.2h-1.2M428.8 505.6h-1.2M428.8 503.8h-1.2M428.8 502.4h-1.2M428.8 501.3h-1.2M428.8 500.3h-1.2M428.8 499.5h-1.2M428.8 498.8h-1.2M428.8 547.6h-1.2M428.8 549.3h-1.2M428.8 551h-1.2M428.8 552.7h-1.2M428.8 554.4h-1.2M428.8 556.1h-1.2" stroke="#999" stroke-width="0.5" fill="none"/>
<path d="M428.8 545.9h-2.2M428.8 529.4h-2.2M428.8 512.5h-2.2M428.8 498.1h-2.2" stroke="#666" stroke-width="0.7" fill="none"/>
<text transform="translate(444.1 563.6) scale(0.340)" font-size="10" text-anchor="middle" fill="#888">0</text>
<text transform="translate(461 563.8) scale(0.300)" font-size="10" text-anchor="middle" fill="#888">10<tspan dy="-4" font-size="7">3</tspan></text>
<text transform="translate(480.1 563.8) scale(0.300)" font-size="10" text-anchor="middle" fill="#888">10<tspan dy="-4" font-size="7">4</tspan></text>
<text transform="translate(497.4 563.8) scale(0.300)" font-size="10" text-anchor="middle" fill="#888">10<tspan dy="-4" font-size="7">5</tspan></text>
<text transform="translate(424.6 529.4) rotate(-90) scale(0.300)" font-size="10" text-anchor="middle" fill="#888">10<tspan dy="-4" font-size="7">3</tspan></text>
<text transform="translate(424.6 512.5) rotate(-90) scale(0.300)" font-size="10" text-anchor="middle" fill="#888">10<tspan dy="-4" font-size="7">4</tspan></text>
<text transform="translate(424.6 498.1) rotate(-90) scale(0.300)" font-size="10" text-anchor="middle" fill="#888">10<tspan dy="-4" font-size="7">5</tspan></text>
<text transform="translate(429.3 565.2) scale(0.260)" font-size="10" text-anchor="middle" fill="#888">-391</text>
<text transform="translate(426.2 559.8) scale(0.260)" font-size="10" text-anchor="middle" fill="#555">M</text>
<path d="M501.4 498V519" stroke="#555" stroke-width="1.3" opacity=".75"/>
<ellipse cx="443.8" cy="544.2" rx="13" ry="7.5" fill="none" stroke="#111" stroke-width="1.5"/>
<text x="430.6" y="527.5" font-size="9.3">0.5%</text>
<text x="420.4" y="540" font-size="12" transform="rotate(-90 420.4 540)">CD45</text>
<text x="459.2" y="580" font-size="12.2">Lin</text>
<rect x="24.2" y="606.2" width="75.8" height="67.6" fill="none" stroke="#909090" stroke-width="1"/>
<path d="M24.2 606.2V673.8H100" fill="none" stroke="#555" stroke-width="1"/>
<path d="M24.2 673.8h-2.2M24.2 660.9h-2.2M24.2 648h-2.2M24.2 635h-2.2M24.2 622.1h-2.2M24.2 609.2h-2.2" stroke="#444" stroke-width="0.6" fill="none"/>
<path d="M24.2 667.3h-1.2M24.2 654.4h-1.2M24.2 641.5h-1.2M24.2 628.6h-1.2M24.2 615.7h-1.2" stroke="#666" stroke-width="0.5" fill="none"/>
<text transform="translate(20.8 675) scale(0.330)" font-size="10" text-anchor="end" fill="#333">0</text>
<text transform="translate(20.8 662.1) scale(0.330)" font-size="10" text-anchor="end" fill="#333">20</text>
<text transform="translate(20.8 649.2) scale(0.330)" font-size="10" text-anchor="end" fill="#333">40</text>
<text transform="translate(20.8 636.2) scale(0.330)" font-size="10" text-anchor="end" fill="#333">60</text>
<text transform="translate(20.8 623.3) scale(0.330)" font-size="10" text-anchor="end" fill="#333">80</text>
<text transform="translate(20.8 610.4) scale(0.330)" font-size="10" text-anchor="end" fill="#333">100</text>
<text transform="translate(13 639) rotate(-90) scale(0.310)" font-size="10" text-anchor="middle" fill="#333">% of Max</text>
<text transform="translate(24.8 679.8) scale(0.330)" font-size="10" text-anchor="middle" fill="#333">0</text>
<text transform="translate(42.8 680) scale(0.320)" font-size="10" text-anchor="middle" fill="#3a3a3a">10<tspan dy="-4" font-size="7">2</tspan></text>
<text transform="translate(58.8 680) scale(0.320)" font-size="10" text-anchor="middle" fill="#3a3a3a">10<tspan dy="-4" font-size="7">3</tspan></text>
<text transform="translate(75.4 680) scale(0.320)" font-size="10" text-anchor="middle" fill="#3a3a3a">10<tspan dy="-4" font-size="7">4</tspan></text>
<text transform="translate(92.2 680) scale(0.320)" font-size="10" text-anchor="middle" fill="#3a3a3a">10<tspan dy="-4" font-size="7">5</tspan></text>
<path d="M24.8 673.8v2.2M42.8 673.8v2.2M58.8 673.8v2.2M75.4 673.8v2.2M92.2 673.8v2.2" stroke="#444" stroke-width="0.6" fill="none"/>
<path d="M47.6 673.8v1.2M50.4 673.8v1.2M52.4 673.8v1.2M54 673.8v1.2M55.3 673.8v1.2M56.3 673.8v1.2M57.2 673.8v1.2M58.1 673.8v1.2M63.8 673.8v1.2M66.7 673.8v1.2M68.8 673.8v1.2M70.4 673.8v1.2M71.7 673.8v1.2M72.8 673.8v1.2M73.8 673.8v1.2M74.6 673.8v1.2M80.5 673.8v1.2M83.4 673.8v1.2M85.5 673.8v1.2M87.1 673.8v1.2M88.5 673.8v1.2M89.6 673.8v1.2M90.6 673.8v1.2M91.4 673.8v1.2" stroke="#777" stroke-width="0.4" fill="none"/>
<path d="M24.8 673.5L25 666.2L27.5 664L30 660L32.5 654.5L34.5 648L36.5 641.2L38.2 632.5L39.8 623L41 615L42.2 612L43.2 610.5L44.2 615L45.5 623.8L46.8 635L48 645L49.5 655.5L51.2 664.5L53.2 670L55.5 673L57.5 673.5L57.5 673.8L24.8 673.8Z" fill="#b8b8b8" stroke="#a0a0a0" stroke-width="0.5"/>
<path d="M24.5 664.5L26.2 663.5L28.2 661.2L30.2 658L32.2 653L34 647.5L35.5 647L36.8 640L38 632.5L39.2 625L40.2 617.5L41.2 613L42.2 612L43 609.5L44 613.8L45 618.8L46 627.5L47 636.2L48.2 645.5L49.5 654.5L51 662.5L52.8 668L55 671.5L58 673" fill="none" stroke="#262626" stroke-width="0.75" stroke-linejoin="round"/>
<text x="38.4" y="601.8" font-size="12.2">Erythro</text>
<path d="M25.8 688H55.6" stroke="#000" stroke-width="1.6"/>
<path d="M62.6 688L54.6 683L54.6 693Z" fill="#000"/>
<text x="76.2" y="692" font-size="12">GAL1</text>
<rect x="140.5" y="605" width="74.5" height="68" fill="none" stroke="#909090" stroke-width="1"/>
<path d="M140.5 605V673H215" fill="none" stroke="#555" stroke-width="1"/>
<path d="M140.5 673h-2.2M140.5 660h-2.2M140.5 647h-2.2M140.5 634h-2.2M140.5 621h-2.2M140.5 608h-2.2" stroke="#444" stroke-width="0.6" fill="none"/>
<path d="M140.5 666.5h-1.2M140.5 653.5h-1.2M140.5 640.5h-1.2M140.5 627.5h-1.2M140.5 614.5h-1.2" stroke="#666" stroke-width="0.5" fill="none"/>
<text transform="translate(137.1 674.2) scale(0.330)" font-size="10" text-anchor="end" fill="#333">0</text>
<text transform="translate(137.1 661.2) scale(0.330)" font-size="10" text-anchor="end" fill="#333">20</text>
<text transform="translate(137.1 648.2) scale(0.330)" font-size="10" text-anchor="end" fill="#333">40</text>
<text transform="translate(137.1 635.2) scale(0.330)" font-size="10" text-anchor="end" fill="#333">60</text>
<text transform="translate(137.1 622.2) scale(0.330)" font-size="10" text-anchor="end" fill="#333">80</text>
<text transform="translate(137.1 609.2) scale(0.330)" font-size="10" text-anchor="end" fill="#333">100</text>
<text transform="translate(129.3 638) rotate(-90) scale(0.310)" font-size="10" text-anchor="middle" fill="#333">% of Max</text>
<text transform="translate(141.1 679) scale(0.330)" font-size="10" text-anchor="middle" fill="#333">0</text>
<text transform="translate(159.1 679.2) scale(0.320)" font-size="10" text-anchor="middle" fill="#3a3a3a">10<tspan dy="-4" font-size="7">2</tspan></text>
<text transform="translate(175.1 679.2) scale(0.320)" font-size="10" text-anchor="middle" fill="#3a3a3a">10<tspan dy="-4" font-size="7">3</tspan></text>
<text transform="translate(191.7 679.2) scale(0.320)" font-size="10" text-anchor="middle" fill="#3a3a3a">10<tspan dy="-4" font-size="7">4</tspan></text>
<text transform="translate(208.5 679.2) scale(0.320)" font-size="10" text-anchor="middle" fill="#3a3a3a">10<tspan dy="-4" font-size="7">5</tspan></text>
<path d="M141.1 673v2.2M159.1 673v2.2M175.1 673v2.2M191.7 673v2.2M208.5 673v2.2" stroke="#444" stroke-width="0.6" fill="none"/>
<path d="M163.9 673v1.2M166.7 673v1.2M168.7 673v1.2M170.3 673v1.2M171.6 673v1.2M172.6 673v1.2M173.5 673v1.2M174.4 673v1.2M180.1 673v1.2M183 673v1.2M185.1 673v1.2M186.7 673v1.2M188 673v1.2M189.1 673v1.2M190.1 673v1.2M190.9 673v1.2M196.8 673v1.2M199.7 673v1.2M201.8 673v1.2M203.4 673v1.2M204.8 673v1.2M205.9 673v1.2M206.9 673v1.2M207.7 673v1.2" stroke="#777" stroke-width="0.4" fill="none"/>
<path d="M152 672.8L154.5 669.5L156.5 663.8L158.2 653.8L159.8 642.5L161 631.2L162 621.2L162.8 613.8L163.2 610.5L164 617.5L164.8 628.8L165.8 641.2L167 653.8L168.5 663.8L170.2 670L172.2 672.8L172.2 673L152 673Z" fill="#b8b8b8" stroke="#a0a0a0" stroke-width="0.5"/>
<path d="M140.5 668L141.2 672L145 672.5L150 672L153.8 670.8L156.8 669L158.8 667.8L160.5 668.8L162 668L163.5 667.5L165 665.5L166.2 661.2L167.2 653.8L168.2 642.5L169.2 631.2L170.2 620L171 612.5L171.8 609L172.5 610.5L173.2 613.8L174 622.5L174.8 633.8L175.5 643.8L176 645.5L176.5 651.2L177.5 658.8L178.8 665L180.2 669L182.5 671.5L186.2 672.8" fill="none" stroke="#262626" stroke-width="0.75" stroke-linejoin="round"/>
<text x="166.6" y="601.4" font-size="12.3">pDC</text>
<rect x="241.8" y="605" width="74" height="68" fill="none" stroke="#909090" stroke-width="1"/>
<path d="M241.8 605V673H315.8" fill="none" stroke="#555" stroke-width="1"/>
<path d="M241.8 673h-2.2M241.8 660h-2.2M241.8 647h-2.2M241.8 634h-2.2M241.8 621h-2.2M241.8 608h-2.2" stroke="#444" stroke-width="0.6" fill="none"/>
<path d="M241.8 666.5h-1.2M241.8 653.5h-1.2M241.8 640.5h-1.2M241.8 627.5h-1.2M241.8 614.5h-1.2" stroke="#666" stroke-width="0.5" fill="none"/>
<text transform="translate(238.4 674.2) scale(0.330)" font-size="10" text-anchor="end" fill="#333">0</text>
<text transform="translate(238.4 661.2) scale(0.330)" font-size="10" text-anchor="end" fill="#333">20</text>
<text transform="translate(238.4 648.2) scale(0.330)" font-size="10" text-anchor="end" fill="#333">40</text>
<text transform="translate(238.4 635.2) scale(0.330)" font-size="10" text-anchor="end" fill="#333">60</text>
<text transform="translate(238.4 622.2) scale(0.330)" font-size="10" text-anchor="end" fill="#333">80</text>
<text transform="translate(238.4 609.2) scale(0.330)" font-size="10" text-anchor="end" fill="#333">100</text>
<text transform="translate(230.6 638) rotate(-90) scale(0.310)" font-size="10" text-anchor="middle" fill="#333">% of Max</text>
<text transform="translate(242.4 679) scale(0.330)" font-size="10" text-anchor="middle" fill="#333">0</text>
<text transform="translate(260.4 679.2) scale(0.320)" font-size="10" text-anchor="middle" fill="#3a3a3a">10<tspan dy="-4" font-size="7">2</tspan></text>
<text transform="translate(276.4 679.2) scale(0.320)" font-size="10" text-anchor="middle" fill="#3a3a3a">10<tspan dy="-4" font-size="7">3</tspan></text>
<text transform="translate(293 679.2) scale(0.320)" font-size="10" text-anchor="middle" fill="#3a3a3a">10<tspan dy="-4" font-size="7">4</tspan></text>
<text transform="translate(309.8 679.2) scale(0.320)" font-size="10" text-anchor="middle" fill="#3a3a3a">10<tspan dy="-4" font-size="7">5</tspan></text>
<path d="M242.4 673v2.2M260.4 673v2.2M276.4 673v2.2M293 673v2.2M309.8 673v2.2" stroke="#444" stroke-width="0.6" fill="none"/>
<path d="M265.2 673v1.2M268 673v1.2M270 673v1.2M271.6 673v1.2M272.9 673v1.2M273.9 673v1.2M274.8 673v1.2M275.7 673v1.2M281.4 673v1.2M284.3 673v1.2M286.4 673v1.2M288 673v1.2M289.3 673v1.2M290.4 673v1.2M291.4 673v1.2M292.2 673v1.2M298.1 673v1.2M301 673v1.2M303.1 673v1.2M304.7 673v1.2M306.1 673v1.2M307.2 673v1.2M308.2 673v1.2M309 673v1.2" stroke="#777" stroke-width="0.4" fill="none"/>
<path d="M255 672.8L257.5 668.8L259.5 661.2L261 651.2L262.2 640L263.2 628.8L264 618.8L264.8 611.2L265.5 617.5L266.5 628.8L267.5 640L268.8 651.2L270.2 661.2L272 668.8L274 672.8L274 673L255 673Z" fill="#b8b8b8" stroke="#a0a0a0" stroke-width="0.5"/>
<path d="M241.8 672.8L255 672.5L261.2 671.8L265 669.5L267 666.2L268.2 662.5L269.5 663.8L270.5 655L271.8 645.5L273 635.5L274.2 625L275.2 617L276.2 610.5L277 608.2L277.8 610.5L278.5 617.5L279.2 625.5L280 627L280.8 622.5L281.2 626.2L282 640L282.8 652.5L283.8 662.5L285 668.8L287 671.8L290 672.8" fill="none" stroke="#262626" stroke-width="0.75" stroke-linejoin="round"/>
<text x="268.6" y="602" font-size="12.3">IDC</text>
<rect x="332.5" y="605" width="74.5" height="68" fill="none" stroke="#909090" stroke-width="1"/>
<path d="M332.5 605V673H407" fill="none" stroke="#555" stroke-width="1"/>
<path d="M332.5 673h-2.2M332.5 660h-2.2M332.5 647h-2.2M332.5 634h-2.2M332.5 621h-2.2M332.5 608h-2.2" stroke="#444" stroke-width="0.6" fill="none"/>
<path d="M332.5 666.5h-1.2M332.5 653.5h-1.2M332.5 640.5h-1.2M332.5 627.5h-1.2M332.5 614.5h-1.2" stroke="#666" stroke-width="0.5" fill="none"/>
<text transform="translate(329.1 674.2) scale(0.330)" font-size="10" text-anchor="end" fill="#333">0</text>
<text transform="translate(329.1 661.2) scale(0.330)" font-size="10" text-anchor="end" fill="#333">20</text>
<text transform="translate(329.1 648.2) scale(0.330)" font-size="10" text-anchor="end" fill="#333">40</text>
<text transform="translate(329.1 635.2) scale(0.330)" font-size="10" text-anchor="end" fill="#333">60</text>
<text transform="translate(329.1 622.2) scale(0.330)" font-size="10" text-anchor="end" fill="#333">80</text>
<text transform="translate(329.1 609.2) scale(0.330)" font-size="10" text-anchor="end" fill="#333">100</text>
<text transform="translate(321.3 638) rotate(-90) scale(0.310)" font-size="10" text-anchor="middle" fill="#333">% of Max</text>
<text transform="translate(333.1 679) scale(0.330)" font-size="10" text-anchor="middle" fill="#333">0</text>
<text transform="translate(351.1 679.2) scale(0.320)" font-size="10" text-anchor="middle" fill="#3a3a3a">10<tspan dy="-4" font-size="7">2</tspan></text>
<text transform="translate(367.1 679.2) scale(0.320)" font-size="10" text-anchor="middle" fill="#3a3a3a">10<tspan dy="-4" font-size="7">3</tspan></text>
<text transform="translate(383.7 679.2) scale(0.320)" font-size="10" text-anchor="middle" fill="#3a3a3a">10<tspan dy="-4" font-size="7">4</tspan></text>
<text transform="translate(400.5 679.2) scale(0.320)" font-size="10" text-anchor="middle" fill="#3a3a3a">10<tspan dy="-4" font-size="7">5</tspan></text>
<path d="M333.1 673v2.2M351.1 673v2.2M367.1 673v2.2M383.7 673v2.2M400.5 673v2.2" stroke="#444" stroke-width="0.6" fill="none"/>
<path d="M355.9 673v1.2M358.7 673v1.2M360.7 673v1.2M362.3 673v1.2M363.6 673v1.2M364.6 673v1.2M365.5 673v1.2M366.4 673v1.2M372.1 673v1.2M375 673v1.2M377.1 673v1.2M378.7 673v1.2M380 673v1.2M381.1 673v1.2M382.1 673v1.2M382.9 673v1.2M388.8 673v1.2M391.7 673v1.2M393.8 673v1.2M395.4 673v1.2M396.8 673v1.2M397.9 673v1.2M398.9 673v1.2M399.7 673v1.2" stroke="#777" stroke-width="0.4" fill="none"/>
<path d="M344.5 672.8L346.8 668.8L348.8 661.2L350.2 651.2L351.5 640L352.5 628.8L353.5 617.5L354.2 611L355 617.5L356 630L357 642.5L358.2 655L359.5 665L361 670.5L362.5 672.8L362.5 673L344.5 673Z" fill="#b8b8b8" stroke="#a0a0a0" stroke-width="0.5"/>
<path d="M332.5 672.8L337.5 672L342.5 671.2L345.8 669L348 665.5L349.8 661.2L350.8 658.5L351.5 661.5L352.5 657.5L353.5 652.5L354.5 647L355.5 640L356.5 633L357.5 623.8L358.2 619.5L359 618.8L359.5 612.5L360 608.5L360.8 617.5L361.5 625L362.5 633.8L363.5 642.5L364.8 651.2L366 657L367 660L368 657L368.8 659.5L369.8 661.5L370.8 660L371.8 666.2L373 670L375 672" fill="none" stroke="#262626" stroke-width="0.75" stroke-linejoin="round"/>
<text x="357.6" y="600.6" font-size="12.3">mDC</text>
<rect x="429.5" y="605" width="75" height="68" fill="none" stroke="#909090" stroke-width="1"/>
<path d="M429.5 605V673H504.5" fill="none" stroke="#555" stroke-width="1"/>
<path d="M429.5 673h-2.2M429.5 660h-2.2M429.5 647h-2.2M429.5 634h-2.2M429.5 621h-2.2M429.5 608h-2.2" stroke="#444" stroke-width="0.6" fill="none"/>
<path d="M429.5 666.5h-1.2M429.5 653.5h-1.2M429.5 640.5h-1.2M429.5 627.5h-1.2M429.5 614.5h-1.2" stroke="#666" stroke-width="0.5" fill="none"/>
<text transform="translate(426.1 674.2) scale(0.330)" font-size="10" text-anchor="end" fill="#333">0</text>
<text transform="translate(426.1 661.2) scale(0.330)" font-size="10" text-anchor="end" fill="#333">20</text>
<text transform="translate(426.1 648.2) scale(0.330)" font-size="10" text-anchor="end" fill="#333">40</text>
<text transform="translate(426.1 635.2) scale(0.330)" font-size="10" text-anchor="end" fill="#333">60</text>
<text transform="translate(426.1 622.2) scale(0.330)" font-size="10" text-anchor="end" fill="#333">80</text>
<text transform="translate(426.1 609.2) scale(0.330)" font-size="10" text-anchor="end" fill="#333">100</text>
<text transform="translate(418.3 638) rotate(-90) scale(0.310)" font-size="10" text-anchor="middle" fill="#333">% of Max</text>
<text transform="translate(430.1 679) scale(0.330)" font-size="10" text-anchor="middle" fill="#333">0</text>
<text transform="translate(448.1 679.2) scale(0.320)" font-size="10" text-anchor="middle" fill="#3a3a3a">10<tspan dy="-4" font-size="7">2</tspan></text>
<text transform="translate(464.1 679.2) scale(0.320)" font-size="10" text-anchor="middle" fill="#3a3a3a">10<tspan dy="-4" font-size="7">3</tspan></text>
<text transform="translate(480.7 679.2) scale(0.320)" font-size="10" text-anchor="middle" fill="#3a3a3a">10<tspan dy="-4" font-size="7">4</tspan></text>
<text transform="translate(497.5 679.2) scale(0.320)" font-size="10" text-anchor="middle" fill="#3a3a3a">10<tspan dy="-4" font-size="7">5</tspan></text>
<path d="M430.1 673v2.2M448.1 673v2.2M464.1 673v2.2M480.7 673v2.2M497.5 673v2.2" stroke="#444" stroke-width="0.6" fill="none"/>
<path d="M452.9 673v1.2M455.7 673v1.2M457.7 673v1.2M459.3 673v1.2M460.6 673v1.2M461.6 673v1.2M462.5 673v1.2M463.4 673v1.2M469.1 673v1.2M472 673v1.2M474.1 673v1.2M475.7 673v1.2M477 673v1.2M478.1 673v1.2M479.1 673v1.2M479.9 673v1.2M485.8 673v1.2M488.7 673v1.2M490.8 673v1.2M492.4 673v1.2M493.8 673v1.2M494.9 673v1.2M495.9 673v1.2M496.7 673v1.2" stroke="#777" stroke-width="0.4" fill="none"/>
<path d="M430 672.8L432.5 670L435 667.5L437.5 665L439.5 660.5L441.2 654.5L442.8 646.2L444.2 636.2L445.5 627.5L446.8 620L448 615L449 612L449.8 610L450.5 617.5L451.2 619.5L452 614.5L452.8 620L453.5 622L454.2 616.2L455 622.5L455.8 631.2L456.8 645L457.8 656.2L459 665L460.5 670.5L462 672.8L462 673L430 673Z" fill="#b8b8b8" stroke="#a0a0a0" stroke-width="0.5"/>
<path d="M429.5 672.8L429.8 663.8L431 661.5L432.2 660.5L433.2 662.5L434.5 659.5L435.8 658.5L437 659.5L438.2 656L439.5 654.5L440.8 652.5L441.5 647L442.2 638.8L443 635.5L443.8 635L444.5 639L445.2 630L446 622.5L446.8 617.5L447.5 620L448 623L448.8 613.8L449.5 609L450.2 615L450.8 621.5L451.5 616.2L452 613.5L452.8 620L453.2 624L454 615.5L454.5 615L455.2 622.5L456 631.2L456.8 641.2L457.8 652.5L458.8 660.5L459.8 665L460.8 666.5L461.8 663L462.5 662.5L463.5 667.5L464.5 669.5L465.8 666.5L467 664.5L468.2 662.5L469.2 660.5L470 656.2L470.8 654.5L471.5 659.5L472.5 661.5L473.5 660L474.5 660.5L475.5 663.5L476.8 666.5L478 667L479.2 669L480.8 671L483 672.5" fill="none" stroke="#262626" stroke-width="0.75" stroke-linejoin="round"/>
<text x="417.2" y="600.8" font-size="12.25">BM stromal cells</text>
<text x="464" y="638.8" font-size="9.3">17.2%</text>
<path d="M464.5 645.6H485.2" stroke="#000" stroke-width="2"/>
</svg>
</body></html>
